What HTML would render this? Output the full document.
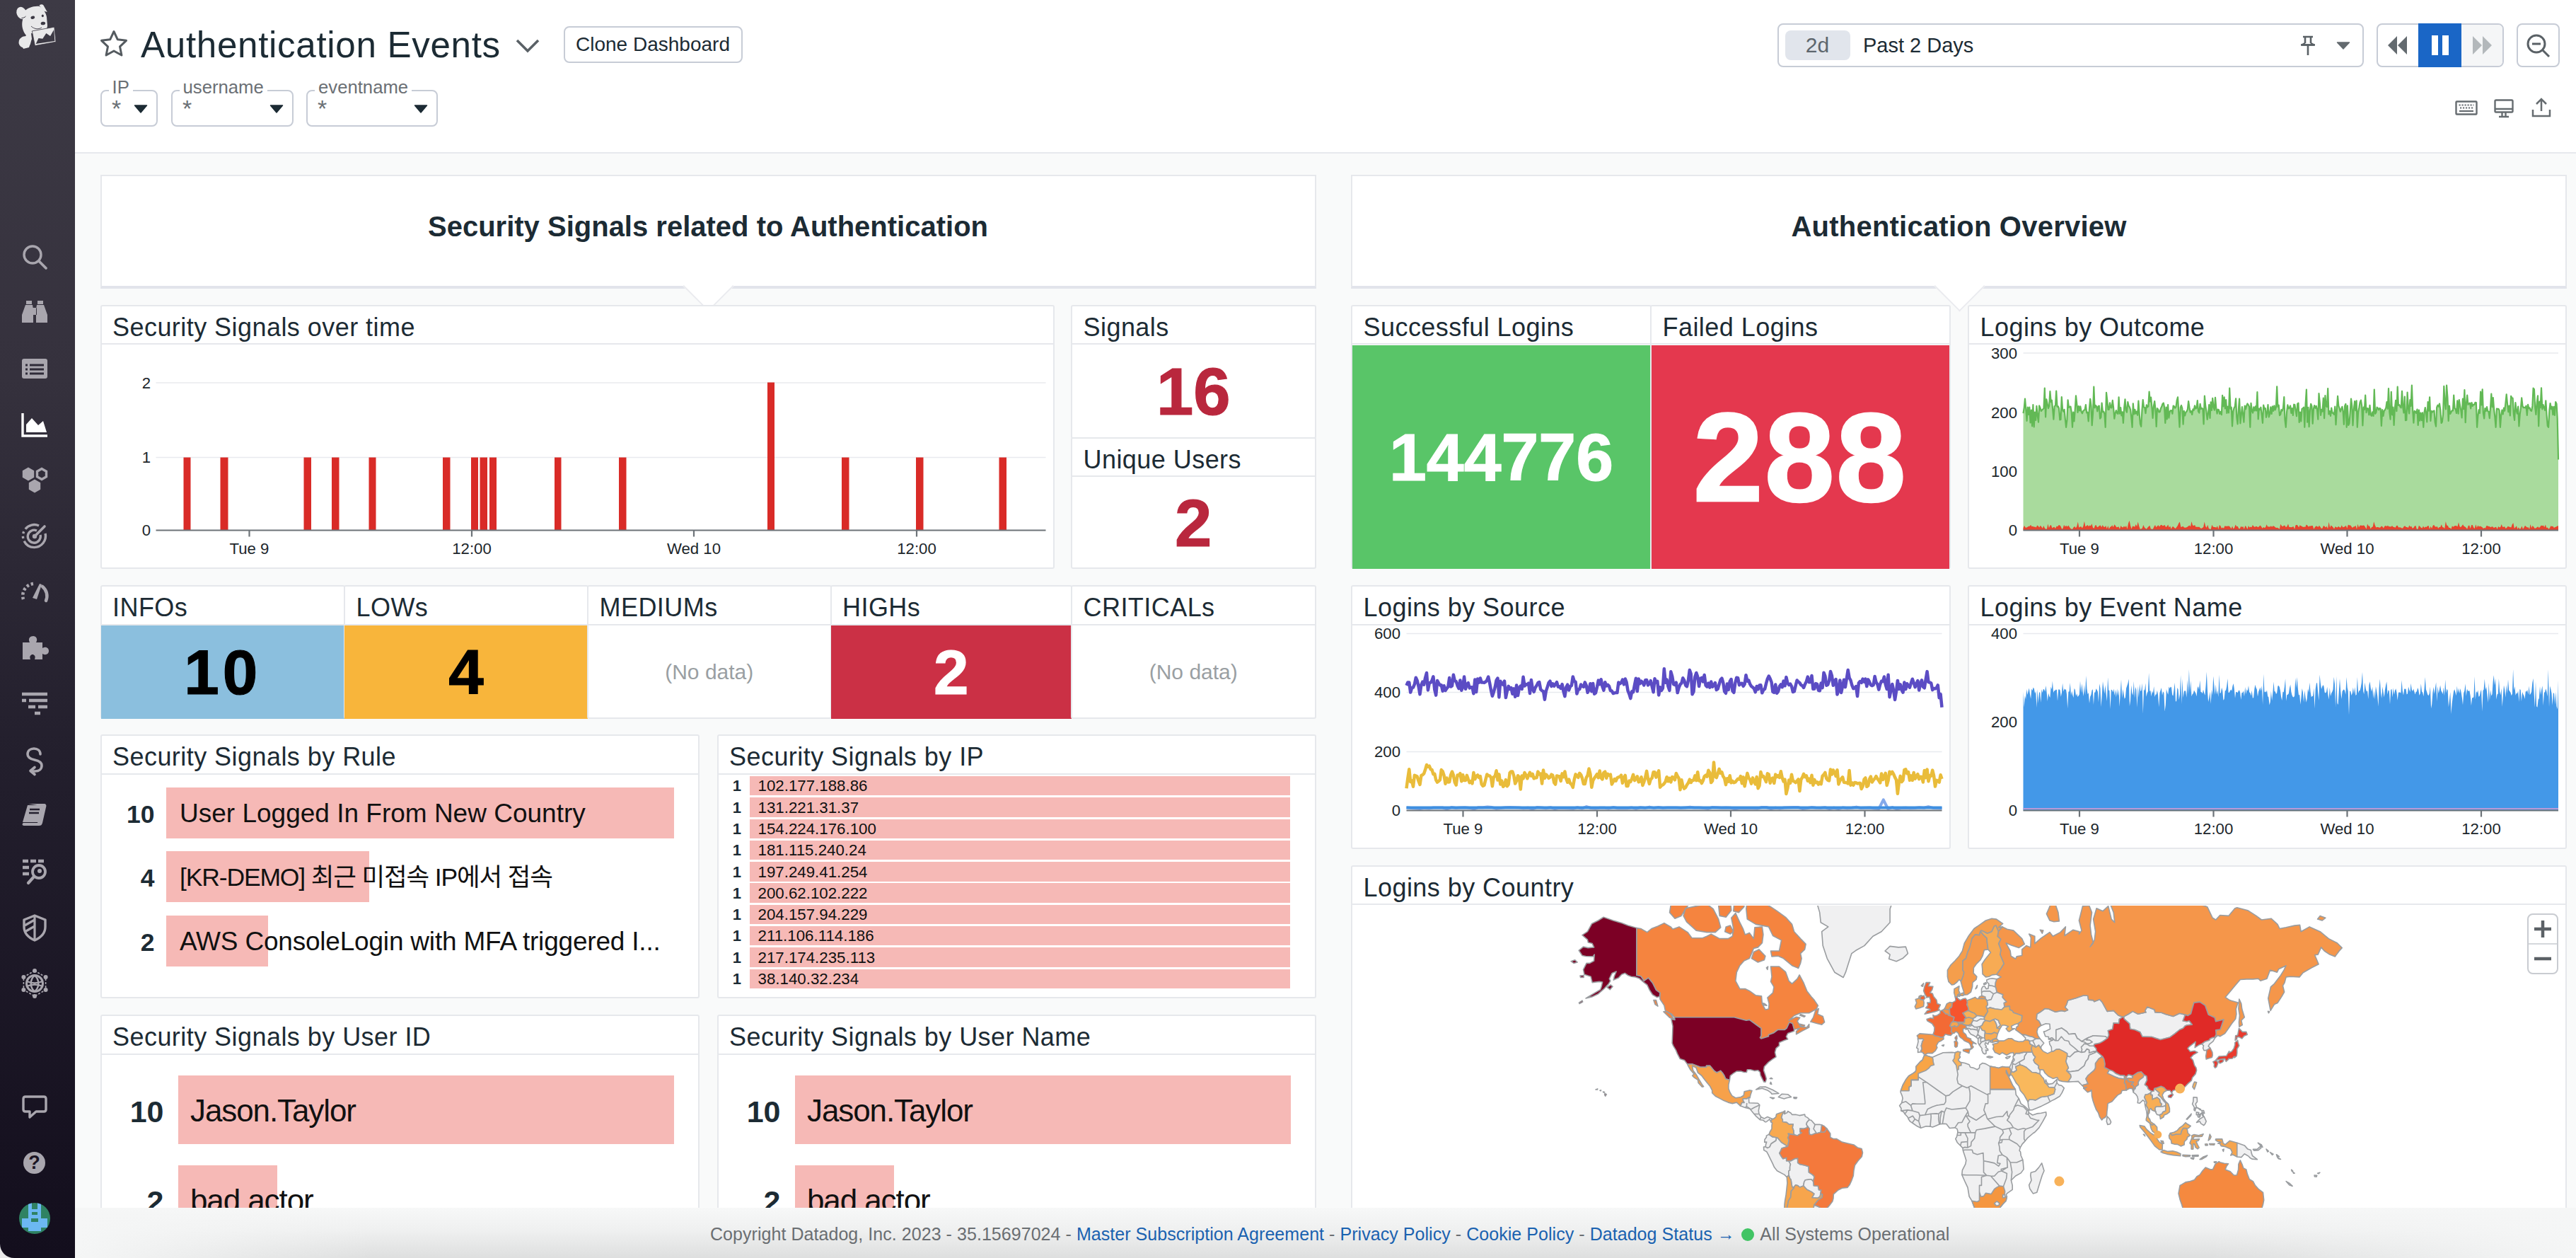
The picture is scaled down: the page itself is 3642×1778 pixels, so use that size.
<!DOCTYPE html>
<html lang="en"><head><meta charset="utf-8"><title>Authentication Events | Datadog</title>
<style>
*{box-sizing:border-box}
html,body{margin:0;padding:0}
html{width:3642px;height:1778px;overflow:hidden}
body{width:3642px;height:1778px;overflow:hidden;position:relative;background:#f9fafa;font-family:"Liberation Sans", "Noto Sans CJK KR", sans-serif;color:#1c2b34}
.abs{position:absolute}
#side{position:absolute;left:0;top:0;width:106px;height:1778px;background:linear-gradient(180deg,#3d3a45 0%,#35313d 30%,#231f2d 60%,#130e1d 100%)}
#hdr{position:absolute;left:106px;top:0;width:3536px;height:217px;background:#fff;border-bottom:2px solid #e7e9ed}
.w{position:absolute;background:#fff;border:2px solid #e6e8ec;border-radius:3px}
.t{position:absolute;left:0;right:0;top:0;height:54.400px;border-bottom:2px solid #e6e8ec;font-size:36px;line-height:59.500px;letter-spacing:0.450px;padding-left:15.500px;white-space:nowrap;color:#1c2b34}
.g{position:absolute;background:#fff;border:2px solid #e6e8ec;border-bottom:4px solid #e2e4eb;text-align:center;font-weight:700;font-size:40px;color:#1c2b34}
.g span{position:absolute;left:0;right:0;top:41.500px;line-height:60px;white-space:nowrap}
.notch{position:absolute;width:51px;height:51px;background:#fff;border-right:2px solid #eaebef;border-bottom:2px solid #eaebef;transform:rotate(45deg)}
.big{position:absolute;left:0;right:0;text-align:center;font-weight:700;white-space:nowrap}
.nodata{position:absolute;left:0;right:0;text-align:center;color:#9a9fa3;font-size:30px;white-space:nowrap}
.row{position:absolute;white-space:nowrap}
.bar{position:absolute;background:#f6b9b6}
.num{position:absolute;font-weight:700;text-align:right;color:#1c2b34;white-space:nowrap}
.lab{position:absolute;color:#111;white-space:nowrap}
.btn{position:absolute;border:2px solid #c7ccd6;border-radius:8px;background:#fff}
.ddl{position:absolute;font-size:25.700px;color:#6b7075;background:#fff;padding:0 5px;line-height:28px;white-space:nowrap}
svg{position:absolute;overflow:visible}
svg text{font-family:"Liberation Sans", "Noto Sans CJK KR", sans-serif}
#foot{position:absolute;left:106px;top:1707px;width:3536px;height:71px;background:linear-gradient(90deg,rgba(245,246,246,1) 0,rgba(245,246,246,0) 420px),linear-gradient(270deg,rgba(245,246,246,1) 0,rgba(245,246,246,0) 520px),linear-gradient(180deg,#f7f8f8 0%,#eff0f0 45%,#dedfdf 100%);font-size:25px;letter-spacing:0.050px;color:#6a6e72;white-space:nowrap}
#foot a{color:#1a62b0;text-decoration:none}
</style></head><body>
<div id="hdr"></div>
<svg style="left:140px;top:41px" width="42" height="42" viewBox="0 0 42 42"><path d="M21 3.5l5.3 11.3 12.2 1.5-9 8.5 2.4 12.2L21 31l-10.9 6 2.4-12.2-9-8.5 12.200-1.5z" fill="none" stroke="#555b60" stroke-width="3" stroke-linejoin="round"/></svg>
<div class="abs" style="left:199px;top:32px;font-size:51.200px;line-height:64px;letter-spacing:0.650px;white-space:nowrap;color:#1c2b34">Authentication Events</div>
<svg style="left:728px;top:54px" width="36" height="24" viewBox="0 0 36 24"><path d="M3 3l15 15L33 3" fill="none" stroke="#5a6166" stroke-width="3.6"/></svg>
<div class="btn" style="left:796.5px;top:36.500px;width:253px;height:52px;text-align:center;font-size:28px;line-height:47px;color:#1c2b34;white-space:nowrap">Clone Dashboard</div>
<div class="btn" style="left:141.5px;top:127px;width:81px;height:51.500px"></div><div class="ddl" style="left:153.5px;top:109px">IP</div><div class="abs" style="left:158px;top:133px;font-size:34px;line-height:40px;color:#6b7075">*</div><svg style="left:188.5px;top:148px" width="20" height="12" viewBox="0 0 20 12"><path d="M1.500 1h17L10 11z" fill="#1c2b34" stroke="#1c2b34" stroke-width="1.500" stroke-linejoin="round"/></svg>
<div class="btn" style="left:241.5px;top:127px;width:173px;height:51.500px"></div><div class="ddl" style="left:253.5px;top:109px">username</div><div class="abs" style="left:258px;top:133px;font-size:34px;line-height:40px;color:#6b7075">*</div><svg style="left:380.5px;top:148px" width="20" height="12" viewBox="0 0 20 12"><path d="M1.500 1h17L10 11z" fill="#1c2b34" stroke="#1c2b34" stroke-width="1.500" stroke-linejoin="round"/></svg>
<div class="btn" style="left:432.5px;top:127px;width:186px;height:51.500px"></div><div class="ddl" style="left:445px;top:109px">eventname</div><div class="abs" style="left:449px;top:133px;font-size:34px;line-height:40px;color:#6b7075">*</div><svg style="left:584.5px;top:148px" width="20" height="12" viewBox="0 0 20 12"><path d="M1.500 1h17L10 11z" fill="#1c2b34" stroke="#1c2b34" stroke-width="1.500" stroke-linejoin="round"/></svg>
<div class="btn" style="left:2512.5px;top:32.500px;width:829px;height:62.500px"></div><div class="abs" style="left:2523.5px;top:43px;width:92px;height:42px;background:#e1e5ec;border-radius:8px;text-align:center;font-size:30px;line-height:42px;color:#5d666d">2d</div><div class="abs" style="left:2634px;top:43px;font-size:29px;line-height:42px;color:#1c2b34;white-space:nowrap">Past 2 Days</div><svg style="left:3248px;top:49px" width="30" height="32" viewBox="0 0 30 32"><path d="M8 3h14M11 3v9M19 3v9M5 14.500h20M15 15v14" fill="none" stroke="#5a6166" stroke-width="2.600"/><path d="M11 12l-5 2.500h18l-5-2.500" fill="none" stroke="#5a6166" stroke-width="2.400"/></svg><svg style="left:3303px;top:59px" width="20" height="11" viewBox="0 0 20 11"><path d="M1.500 1h17L10 10z" fill="#636a6f" stroke="#636a6f" stroke-width="1.500" stroke-linejoin="round"/></svg>
<div class="btn" style="left:3359.5px;top:32.500px;width:180px;height:62.500px;overflow:hidden"><div class="abs" style="left:118.5px;top:0;width:62px;height:63px;background:#f5f6f7"></div></div><div class="abs" style="left:3419px;top:32.500px;width:61px;height:62.500px;background:#1a66c6"></div><svg style="left:3376px;top:50px" width="28" height="28" viewBox="0 0 28 28"><path d="M13 1v26L0 14zM27 1v26L14 14z" fill="#636a6f"/></svg><svg style="left:3437px;top:50px" width="26" height="28" viewBox="0 0 26 28"><path d="M1 0h9v28H1zM16 0h9v28h-9z" fill="#fff"/></svg><svg style="left:3496px;top:51px" width="28" height="26" viewBox="0 0 28 26"><path d="M0 0l13 13L0 26zM14 0l13 13-13 13z" fill="#b3b8bb"/></svg>
<div class="btn" style="left:3557.5px;top:32.500px;width:61px;height:62.500px"></div><svg style="left:3571px;top:47px" width="36" height="36" viewBox="0 0 36 36"><circle cx="15" cy="15" r="12" fill="none" stroke="#5a6166" stroke-width="3"/><path d="M9 15h12M24 24l9 9" stroke="#5a6166" stroke-width="3" fill="none"/></svg>
<svg style="left:3471px;top:142px" width="32" height="22" viewBox="0 0 32 22"><rect x="1.500" y="1.500" width="29" height="18" rx="1" fill="none" stroke="#666c70" stroke-width="2.400"/><path d="M5.500 6.500h21M7 10.500h19" stroke="#666c70" stroke-width="2.200" stroke-dasharray="2.200 1.800"/><path d="M6 15h20" stroke="#666c70" stroke-width="2.200"/></svg><svg style="left:3526px;top:140px" width="28" height="27" viewBox="0 0 28 27"><rect x="1.500" y="1.500" width="25" height="17" rx="1.500" fill="none" stroke="#666c70" stroke-width="2.400"/><path d="M1.500 14h25M11.500 19v5M16.500 19v5M7 25h14" stroke="#666c70" stroke-width="2.400" fill="none"/></svg><svg style="left:3579px;top:138px" width="28" height="28" viewBox="0 0 28 28"><path d="M2 17v9h24v-9M14 19V3M7 9l7-7 7 7" fill="none" stroke="#666c70" stroke-width="2.500"/></svg>
<div class="g" style="left:141.5px;top:246.500px;width:1719px;height:161.500px"><span>Security Signals related to Authentication</span></div>
<div class="notch" style="left:975.5px;top:378.500px"></div>
<div class="g" style="left:1910px;top:246.500px;width:1719px;height:161.500px"><span><i style="font-style:normal;letter-spacing:0.220px">Authentication Overview</i></span></div>
<div class="notch" style="left:2744.5px;top:378.500px"></div>
<div class="w" style="left:141.5px;top:431px;width:1349.5px;height:373px"><div class="t">Security Signals over time</div></div>
<div class="w" style="left:1514px;top:431px;width:346.5px;height:188.5px"><div class="big" style="top:55.500px;font-size:94px;line-height:130px;color:#b9273d;-webkit-text-stroke:1.200px #b9273d">16</div><div class="t">Signals</div></div>
<div class="w" style="left:1514px;top:617.5px;width:346.5px;height:186.5px"><div class="big" style="top:55.500px;font-size:94px;line-height:130px;color:#b9273d;-webkit-text-stroke:1.200px #b9273d">2</div><div class="t">Unique Users</div></div>
<div class="w" style="left:1910px;top:431px;width:425px;height:373px"><div class="abs" style="left:0;right:0;top:55px;bottom:-2px;background:#59c568"></div><div class="big" style="top:54.500px;font-size:95px;line-height:317px;color:#fff;-webkit-text-stroke:1.200px #fff">144776</div><div class="t">Successful Logins</div></div>
<div class="w" style="left:2333px;top:431px;width:424.5px;height:373px"><div class="abs" style="left:0;right:0;top:55px;bottom:-2px;background:#e4384e"></div><div class="big" style="top:55px;font-size:178px;letter-spacing:2px;line-height:317px;color:#fff;-webkit-text-stroke:2.500px #fff">288</div><div class="t">Failed Logins</div></div>
<div class="w" style="left:2782px;top:431px;width:847px;height:373px"><div class="t">Logins by Outcome</div></div>
<div class="w" style="left:141.5px;top:827.2px;width:346.5px;height:188.8px"><div class="abs" style="left:-1px;right:-1px;top:54.400px;bottom:-2px;background:#8bbfde"></div><div class="big" style="top:55px;font-size:89px;letter-spacing:5px;line-height:132px;color:#000;-webkit-text-stroke:1.200px #000">10</div><div class="t">INFOs</div></div>
<div class="w" style="left:486px;top:827.2px;width:346px;height:188.8px"><div class="abs" style="left:-1px;right:-1px;top:54.400px;bottom:-2px;background:#f8b53b"></div><div class="big" style="top:55px;font-size:89px;letter-spacing:0;line-height:132px;color:#000;-webkit-text-stroke:1.200px #000">4</div><div class="t">LOWs</div></div>
<div class="w" style="left:830px;top:827.2px;width:345.5px;height:188.8px"><div class="nodata" style="top:101px;line-height:40px">(No data)</div><div class="t">MEDIUMs</div></div>
<div class="w" style="left:1173.5px;top:827.2px;width:342.5px;height:188.8px"><div class="abs" style="left:-1px;right:-1px;top:54.400px;bottom:-2px;background:#cb3045"></div><div class="big" style="top:55px;font-size:89px;letter-spacing:0;line-height:132px;color:#fff;-webkit-text-stroke:1.200px #fff">2</div><div class="t">HIGHs</div></div>
<div class="w" style="left:1514px;top:827.2px;width:346.5px;height:188.8px"><div class="nodata" style="top:101px;line-height:40px">(No data)</div><div class="t">CRITICALs</div></div>
<div class="w" style="left:1910px;top:827.2px;width:847.5px;height:372.5px"><div class="t">Logins by Source</div></div>
<div class="w" style="left:2782px;top:827.2px;width:847px;height:372.5px"><div class="t">Logins by Event Name</div></div>
<div class="w" style="left:141.5px;top:1038.2px;width:847px;height:372.4px"><div class="bar" style="left:91.5px;top:73.3px;width:718px;height:72px"></div><div class="num" style="left:0;width:75px;top:74.8px;font-size:35.500px;line-height:72px">10</div><div class="lab" style="left:110.5px;top:74.3px;font-size:37px;line-height:72px">User Logged In From New Country</div><div class="bar" style="left:91.5px;top:163.3px;width:287px;height:72px"></div><div class="num" style="left:0;width:75px;top:164.8px;font-size:35.500px;line-height:72px">4</div><div class="lab" style="left:110.5px;top:164.3px;font-size:35.500px;letter-spacing:-1.150px;line-height:72px">[KR-DEMO] 최근 미접속 IP에서 접속</div><div class="bar" style="left:91.5px;top:254.3px;width:143.5px;height:72px"></div><div class="num" style="left:0;width:75px;top:255.8px;font-size:35.500px;line-height:72px">2</div><div class="lab" style="left:110.5px;top:255.3px;font-size:37px;letter-spacing:-0.200px;line-height:72px">AWS ConsoleLogin with MFA triggered I...</div><div class="t">Security Signals by Rule</div></div>
<div class="w" style="left:1013.5px;top:1038.2px;width:847px;height:372.4px"><div class="bar" style="left:44.5px;top:56.8px;width:764px;height:27.500px"></div><div class="num" style="left:0;width:32.5px;top:57.3px;font-size:22px;line-height:28px">1</div><div class="lab" style="left:56px;top:57.3px;font-size:22.300px;line-height:28px">102.177.188.86</div><div class="bar" style="left:44.5px;top:87.08px;width:764px;height:27.500px"></div><div class="num" style="left:0;width:32.5px;top:87.58px;font-size:22px;line-height:28px">1</div><div class="lab" style="left:56px;top:87.58px;font-size:22.300px;line-height:28px">131.221.31.37</div><div class="bar" style="left:44.5px;top:117.36px;width:764px;height:27.500px"></div><div class="num" style="left:0;width:32.5px;top:117.86px;font-size:22px;line-height:28px">1</div><div class="lab" style="left:56px;top:117.86px;font-size:22.300px;line-height:28px">154.224.176.100</div><div class="bar" style="left:44.5px;top:147.64px;width:764px;height:27.500px"></div><div class="num" style="left:0;width:32.5px;top:148.14px;font-size:22px;line-height:28px">1</div><div class="lab" style="left:56px;top:148.14px;font-size:22.300px;line-height:28px">181.115.240.24</div><div class="bar" style="left:44.5px;top:177.92px;width:764px;height:27.500px"></div><div class="num" style="left:0;width:32.5px;top:178.42px;font-size:22px;line-height:28px">1</div><div class="lab" style="left:56px;top:178.42px;font-size:22.300px;line-height:28px">197.249.41.254</div><div class="bar" style="left:44.5px;top:208.2px;width:764px;height:27.500px"></div><div class="num" style="left:0;width:32.5px;top:208.7px;font-size:22px;line-height:28px">1</div><div class="lab" style="left:56px;top:208.7px;font-size:22.300px;line-height:28px">200.62.102.222</div><div class="bar" style="left:44.5px;top:238.48px;width:764px;height:27.500px"></div><div class="num" style="left:0;width:32.5px;top:238.98px;font-size:22px;line-height:28px">1</div><div class="lab" style="left:56px;top:238.98px;font-size:22.300px;line-height:28px">204.157.94.229</div><div class="bar" style="left:44.5px;top:268.76px;width:764px;height:27.500px"></div><div class="num" style="left:0;width:32.5px;top:269.26px;font-size:22px;line-height:28px">1</div><div class="lab" style="left:56px;top:269.26px;font-size:22.300px;line-height:28px">211.106.114.186</div><div class="bar" style="left:44.5px;top:299.04px;width:764px;height:27.500px"></div><div class="num" style="left:0;width:32.5px;top:299.54px;font-size:22px;line-height:28px">1</div><div class="lab" style="left:56px;top:299.54px;font-size:22.300px;line-height:28px">217.174.235.113</div><div class="bar" style="left:44.5px;top:329.32px;width:764px;height:27.500px"></div><div class="num" style="left:0;width:32.5px;top:329.82px;font-size:22px;line-height:28px">1</div><div class="lab" style="left:56px;top:329.82px;font-size:22.300px;line-height:28px">38.140.32.234</div><div class="t">Security Signals by IP</div></div>
<div class="w" style="left:141.5px;top:1434.2px;width:847px;height:300px"><div class="bar" style="left:108.5px;top:83.8px;width:701px;height:97.500px"></div><div class="num" style="left:0;width:88px;top:85.8px;font-size:43px;line-height:98px">10</div><div class="lab" style="left:125.5px;top:84.8px;font-size:44px;letter-spacing:-1.100px;line-height:98px">Jason.Taylor</div><div class="bar" style="left:108.5px;top:210.8px;width:139.5px;height:97.500px"></div><div class="num" style="left:0;width:88px;top:212.8px;font-size:43px;line-height:98px">2</div><div class="lab" style="left:125.5px;top:211.8px;font-size:44px;letter-spacing:-1.100px;line-height:98px">bad.actor</div><div class="t">Security Signals by User ID</div></div>
<div class="w" style="left:1013.5px;top:1434.2px;width:847px;height:300px"><div class="bar" style="left:108.5px;top:83.8px;width:701px;height:97.500px"></div><div class="num" style="left:0;width:88px;top:85.8px;font-size:43px;line-height:98px">10</div><div class="lab" style="left:125.5px;top:84.8px;font-size:44px;letter-spacing:-1.100px;line-height:98px">Jason.Taylor</div><div class="bar" style="left:108.5px;top:210.8px;width:139.5px;height:97.500px"></div><div class="num" style="left:0;width:88px;top:212.8px;font-size:43px;line-height:98px">2</div><div class="lab" style="left:125.5px;top:211.8px;font-size:44px;letter-spacing:-1.100px;line-height:98px">bad.actor</div><div class="t">Security Signals by User Name</div></div>
<div class="w" style="left:1910px;top:1223px;width:1719px;height:520px"><div class="t">Logins by Country</div></div>
<svg style="left:0;top:0" width="3642" height="1778" viewBox="0 0 3642 1778"><text x="213" y="548.7" text-anchor="end" font-size="22.200" fill="#20262b">2</text><text x="213" y="654.2" text-anchor="end" font-size="22.200" fill="#20262b">1</text><text x="213" y="757.2" text-anchor="end" font-size="22.200" fill="#20262b">0</text><path d="M220.5 541H1478.5" stroke="#e8eaee" stroke-width="1.500" fill="none"/><path d="M220.5 646.5H1478.5" stroke="#e8eaee" stroke-width="1.500" fill="none"/><path d="M259.5 749.5V646.5H269.5V749.5zM311.5 749.5V646.5H322.5V749.5zM429.5 749.5V646.5H440V749.5zM469 749.5V646.5H479.5V749.5zM521.5 749.5V646.5H531.5V749.5zM626 749.5V646.5H636.5V749.5zM666 749.5V646.5H676V749.5zM678.5 749.5V646.5H689V749.5zM692 749.5V646.5H702V749.5zM784 749.5V646.5H793.5V749.5zM875 749.5V646.5H885.5V749.5zM1085 749.5V540.5H1095V749.5zM1190 749.5V646.5H1200.5V749.5zM1295 749.5V646.5H1305.5V749.5zM1412.5 749.5V646.5H1423V749.5z" fill="#d92b27"/><path d="M220.5 749.5H1478.5M352.5 749.5v9M667 749.5v9M981 749.5v9M1296 749.5v9" stroke="#6d7378" stroke-width="2.200" fill="none"/><text x="352.5" y="782.7" text-anchor="middle" font-size="22.200" fill="#20262b">Tue 9</text><text x="667" y="782.7" text-anchor="middle" font-size="22.200" fill="#20262b">12:00</text><text x="981" y="782.7" text-anchor="middle" font-size="22.200" fill="#20262b">Wed 10</text><text x="1296" y="782.7" text-anchor="middle" font-size="22.200" fill="#20262b">12:00</text><text x="2852" y="506.7" text-anchor="end" font-size="22.200" fill="#20262b">300</text><text x="2852" y="591.2" text-anchor="end" font-size="22.200" fill="#20262b">200</text><text x="2852" y="674.2" text-anchor="end" font-size="22.200" fill="#20262b">100</text><text x="2852" y="757.2" text-anchor="end" font-size="22.200" fill="#20262b">0</text><path d="M2860.5 499H3617" stroke="#e8eaee" stroke-width="1.500" fill="none"/><path d="M2860.5 584.1L2861.8 576.1L2863 563.7L2864.3 578.3L2865.6 594.8L2866.8 575.6L2868.1 585.8L2869.3 575.6L2870.6 597.5L2871.9 579.6L2873.1 602.3L2874.4 572.1L2875.7 603.4L2876.9 582.7L2878.2 593.9L2879.4 573.9L2880.7 587.5L2882 596.6L2883.2 573.4L2884.5 576.4L2885.8 581L2887 579.3L2888.3 578.3L2889.5 577.2L2890.8 548.5L2892.1 589.5L2893.3 564.3L2894.6 570.5L2895.9 577.1L2897.1 574.2L2898.4 553.2L2899.7 568.2L2900.9 565.7L2902.2 578.7L2903.4 592.6L2904.7 574.3L2906 573.2L2907.2 552.6L2908.5 574.8L2909.8 574.3L2911 577.1L2912.3 593.3L2913.5 592.9L2914.8 561.1L2916.1 579.1L2917.3 581.7L2918.6 578.8L2919.9 593L2921.1 603.8L2922.4 593.5L2923.6 565.4L2924.9 576L2926.2 574.8L2927.4 574.5L2928.7 582.2L2930 603.8L2931.2 582.6L2932.5 595.3L2933.8 578.5L2935 559.3L2936.3 571.4L2937.5 582.8L2938.8 574L2940.1 580.4L2941.3 574.4L2942.6 581.8L2943.9 584.3L2945.1 581.1L2946.4 579.6L2947.6 579.3L2948.9 572.1L2950.2 583.5L2951.4 582.7L2952.7 595.3L2954 577.1L2955.2 563.9L2956.5 573.8L2957.7 601.1L2959 584.3L2960.3 546.7L2961.5 576.3L2962.8 573L2964.1 574.4L2965.3 581.4L2966.6 574.2L2967.8 573.6L2969.1 591.7L2970.4 589.9L2971.6 569.6L2972.9 582.2L2974.2 581.7L2975.4 585L2976.7 603.8L2978 554.9L2979.2 565.5L2980.5 579L2981.7 578.9L2983 569.4L2984.3 576.2L2985.5 576.4L2986.8 565.8L2988.1 576.5L2989.3 591.7L2990.6 584.2L2991.8 580L2993.1 583.7L2994.4 584.9L2995.6 561.4L2996.9 584.7L2998.2 576L2999.4 587.3L3000.7 582.3L3001.9 597.8L3003.2 576.4L3004.5 564.4L3005.7 579.7L3007 582.7L3008.3 568.1L3009.5 573.3L3010.8 575.3L3012.1 579.2L3013.3 589.8L3014.6 603.8L3015.8 570.4L3017.1 585.5L3018.4 578.9L3019.6 584.7L3020.9 581.6L3022.2 586.8L3023.4 566.7L3024.7 585.1L3025.9 599.1L3027.2 602.9L3028.5 579L3029.7 565L3031 575.7L3032.3 576L3033.5 584.1L3034.8 572.3L3036 575.5L3037.3 574.5L3038.6 553.5L3039.8 567.7L3041.1 561.7L3042.4 575.7L3043.6 590.8L3044.9 573.9L3046.2 567.1L3047.4 578.3L3048.7 602.9L3049.9 577.2L3051.2 578.8L3052.5 582.6L3053.7 582.1L3055 577.3L3056.3 574.6L3057.5 570.8L3058.8 569.6L3060 575.2L3061.3 597.9L3062.6 575.5L3063.8 592.4L3065.1 572.2L3066.4 590.7L3067.6 582.3L3068.9 580L3070.1 580L3071.4 584.8L3072.7 573.5L3073.9 574.4L3075.2 576.7L3076.5 574.9L3077.7 566L3079 561.3L3080.3 583.3L3081.5 603.7L3082.8 575.7L3084 573L3085.3 577L3086.6 599.6L3087.8 580.8L3089.1 587.5L3090.4 582.8L3091.6 581.5L3092.9 578.6L3094.1 567L3095.4 576L3096.7 582.7L3097.9 580.9L3099.2 586L3100.5 578.3L3101.7 579.9L3103 573.3L3104.2 577.7L3105.5 576.7L3106.8 566.1L3108 581.5L3109.3 583.5L3110.6 570.8L3111.8 578L3113.1 576.9L3114.4 578.1L3115.6 599.5L3116.9 559.5L3118.1 572.8L3119.4 581.5L3120.7 592.8L3121.9 584.8L3123.2 572L3124.5 591L3125.7 568.4L3127 579.8L3128.2 562.9L3129.5 575.5L3130.8 579.6L3132 561.9L3133.3 577.1L3134.6 584.6L3135.8 578.7L3137.1 579.5L3138.3 585L3139.6 581.9L3140.9 586.1L3142.1 558.8L3143.4 574.4L3144.7 561.4L3145.9 577.5L3147.2 565.2L3148.4 583.9L3149.7 574.6L3151 583.4L3152.2 548.7L3153.5 577.8L3154.8 575.6L3156 602.4L3157.3 581.3L3158.6 576.6L3159.8 574.5L3161.1 563.3L3162.3 589.5L3163.6 599.3L3164.9 578.5L3166.1 563.7L3167.4 598.3L3168.7 586.8L3169.9 575L3171.2 585.8L3172.4 596.6L3173.7 573.6L3175 578.3L3176.2 573.4L3177.5 570.5L3178.8 572.4L3180 574.8L3181.3 603.8L3182.5 569.8L3183.8 580L3185.1 583.5L3186.3 575.4L3187.6 580.4L3188.9 574.3L3190.1 580.5L3191.4 554.2L3192.7 592.5L3193.9 577.5L3195.2 579L3196.4 575.7L3197.7 585.8L3199 597.8L3200.2 572.5L3201.5 578.2L3202.8 577L3204 589.9L3205.3 583.4L3206.5 572.2L3207.8 589.5L3209.1 585L3210.3 575.3L3211.6 585L3212.9 574.3L3214.1 580.9L3215.4 573.3L3216.6 579.4L3217.9 575.7L3219.2 546.4L3220.4 575L3221.7 572.7L3223 587.1L3224.2 585.8L3225.5 579.2L3226.8 580.5L3228 576.7L3229.3 561.2L3230.5 593.7L3231.8 603.8L3233.1 582.2L3234.3 572.3L3235.6 577.4L3236.9 576.5L3238.1 573.5L3239.4 583.9L3240.6 577L3241.9 587L3243.2 571.7L3244.4 572.1L3245.7 580.3L3247 588.2L3248.2 570.8L3249.5 569.7L3250.7 596.9L3252 582.6L3253.3 595.5L3254.5 577.9L3255.8 577.3L3257.1 575.7L3258.3 603.8L3259.6 571.3L3260.9 550.7L3262.1 596.6L3263.4 575.9L3264.6 603.2L3265.9 579.9L3267.2 570.8L3268.4 573.9L3269.7 598.8L3271 577.6L3272.2 573L3273.5 576.8L3274.7 573.8L3276 579L3277.3 592.7L3278.5 556.2L3279.8 569.5L3281.1 586.8L3282.3 578.9L3283.6 581.6L3284.8 562.6L3286.1 591.2L3287.4 559L3288.6 573.6L3289.9 575.2L3291.2 549.1L3292.4 585.4L3293.7 581.1L3295 587.8L3296.2 576.5L3297.5 583.7L3298.7 583.7L3300 585.9L3301.3 574.5L3302.5 600.3L3303.8 579.2L3305.1 559.9L3306.3 573.5L3307.6 577.1L3308.8 581.6L3310.1 578.2L3311.4 574.8L3312.6 581.2L3313.9 599.8L3315.2 573.4L3316.4 570.9L3317.7 603.8L3318.9 573.3L3320.2 601L3321.5 598.5L3322.7 583.1L3324 563.5L3325.3 573.9L3326.5 601.3L3327.8 579L3329.1 567.1L3330.3 580.1L3331.6 566.3L3332.8 603.8L3334.1 582.2L3335.4 575.7L3336.6 568.6L3337.9 565.6L3339.2 573.7L3340.4 601.5L3341.7 575.5L3342.9 578.9L3344.2 558.7L3345.5 583.1L3346.7 577L3348 577.6L3349.3 586.3L3350.5 572.8L3351.8 586.4L3353 587.9L3354.3 582.4L3355.6 587.9L3356.8 550.5L3358.1 584.8L3359.4 582.8L3360.6 575.7L3361.9 576.9L3363.1 579.3L3364.4 577L3365.7 577.7L3366.9 602L3368.2 579.2L3369.5 588L3370.7 580.8L3372 579.2L3373.3 576.6L3374.5 568.2L3375.8 577.8L3377 549.1L3378.3 581.8L3379.6 592.7L3380.8 553.8L3382.1 586.3L3383.4 575.6L3384.6 601L3385.9 576.9L3387.1 565.8L3388.4 581.2L3389.7 546.7L3390.9 572.9L3392.2 572.2L3393.5 574.9L3394.7 576.3L3396 552.8L3397.2 575L3398.5 583.5L3399.8 560.6L3401 594.2L3402.3 593.8L3403.6 554.6L3404.8 576.1L3406.1 584.4L3407.4 565.2L3408.6 573.9L3409.9 544.7L3411.1 578.3L3412.4 597.7L3413.7 580.9L3414.9 581.7L3416.2 583.9L3417.5 578.6L3418.7 600.9L3420 579.6L3421.2 594.7L3422.5 583.5L3423.8 594.2L3425 583.4L3426.3 603.8L3427.6 582.5L3428.8 576L3430.1 583.6L3431.3 596.4L3432.6 568.2L3433.9 580.7L3435.1 561.4L3436.4 595L3437.7 580.8L3438.9 582.5L3440.2 581.1L3441.5 580.5L3442.7 596.8L3444 602.6L3445.2 575.7L3446.5 572.7L3447.8 574.5L3449 570.6L3450.3 579.3L3451.6 598L3452.8 596.4L3454.1 585.3L3455.3 545.9L3456.6 569.8L3457.9 578.3L3459.1 544.7L3460.4 561.6L3461.7 595L3462.9 573.5L3464.2 585L3465.4 582.7L3466.7 580.2L3468 580.3L3469.2 558.6L3470.5 577.2L3471.8 578.3L3473 584L3474.3 566.3L3475.6 584.6L3476.8 565.2L3478.1 573.6L3479.3 579.7L3480.6 590.4L3481.9 563.7L3483.1 578.2L3484.4 551.2L3485.7 597.1L3486.9 570.4L3488.2 558.6L3489.4 571.8L3490.7 570.5L3492 569.6L3493.2 577.4L3494.5 569.1L3495.8 574L3497 571.8L3498.3 572L3499.5 568.9L3500.8 569.1L3502.1 603.8L3503.3 588.3L3504.6 579.4L3505.9 583.9L3507.1 553.7L3508.4 572.5L3509.7 550.4L3510.9 583.9L3512.2 591.5L3513.4 577.1L3514.7 580.9L3516 575L3517.2 581.1L3518.5 581.8L3519.8 591.2L3521 576.5L3522.3 556.5L3523.5 575.3L3524.8 562.2L3526.1 578.8L3527.3 588.8L3528.6 603.8L3529.9 577.6L3531.1 578.1L3532.4 577.8L3533.6 580L3534.9 603.8L3536.2 586.3L3537.4 579.6L3538.7 585.5L3540 576.7L3541.2 580.6L3542.5 569.2L3543.7 557.4L3545 570.9L3546.3 582.1L3547.5 573.7L3548.8 587.5L3550.1 559.8L3551.3 562.2L3552.6 562.7L3553.9 585.7L3555.1 593.8L3556.4 569L3557.6 579.9L3558.9 584.7L3560.2 574.6L3561.4 602.4L3562.7 585.6L3564 576.7L3565.2 562.3L3566.5 574.1L3567.7 576.1L3569 575.8L3570.3 576.4L3571.5 573.6L3572.8 586.9L3574.1 571.9L3575.3 577.1L3576.6 576.4L3577.8 580.1L3579.1 580.9L3580.4 573.9L3581.6 548.6L3582.9 550.2L3584.2 575.5L3585.4 585.9L3586.7 569.5L3588 559.3L3589.2 602.3L3590.5 567.5L3591.7 576.1L3593 548.4L3594.3 578.3L3595.5 572.1L3596.8 575.8L3598.1 580L3599.3 566.4L3600.6 586.9L3601.8 601.9L3603.1 603.8L3604.4 579.8L3605.6 570L3606.9 578.1L3608.2 574.7L3609.4 586.2L3610.7 574.9L3611.9 586.9L3613.2 568.1L3614.5 570.8L3615.7 591.3L3617 649.6V749.5H2860.5z" fill="#a9db9d"/><path d="M2860.5 584.1L2861.8 576.1L2863 563.7L2864.3 578.3L2865.6 594.8L2866.8 575.6L2868.1 585.8L2869.3 575.6L2870.6 597.5L2871.9 579.6L2873.1 602.3L2874.4 572.1L2875.7 603.4L2876.9 582.7L2878.2 593.9L2879.4 573.9L2880.7 587.5L2882 596.6L2883.2 573.4L2884.5 576.4L2885.8 581L2887 579.3L2888.3 578.3L2889.5 577.2L2890.8 548.5L2892.1 589.5L2893.3 564.3L2894.6 570.5L2895.9 577.1L2897.1 574.2L2898.4 553.2L2899.7 568.2L2900.9 565.7L2902.2 578.7L2903.4 592.6L2904.7 574.3L2906 573.2L2907.2 552.6L2908.5 574.8L2909.8 574.3L2911 577.1L2912.3 593.3L2913.5 592.9L2914.8 561.1L2916.1 579.1L2917.3 581.7L2918.6 578.8L2919.9 593L2921.1 603.8L2922.4 593.5L2923.6 565.4L2924.9 576L2926.2 574.8L2927.4 574.5L2928.7 582.2L2930 603.8L2931.2 582.6L2932.5 595.3L2933.8 578.5L2935 559.3L2936.3 571.4L2937.5 582.8L2938.8 574L2940.1 580.4L2941.3 574.4L2942.6 581.8L2943.9 584.3L2945.1 581.1L2946.4 579.6L2947.6 579.3L2948.9 572.1L2950.2 583.5L2951.4 582.7L2952.7 595.3L2954 577.1L2955.2 563.9L2956.5 573.8L2957.7 601.1L2959 584.3L2960.3 546.7L2961.5 576.3L2962.8 573L2964.1 574.4L2965.3 581.4L2966.6 574.2L2967.8 573.6L2969.1 591.7L2970.4 589.9L2971.6 569.6L2972.9 582.2L2974.2 581.7L2975.4 585L2976.7 603.8L2978 554.9L2979.2 565.5L2980.5 579L2981.7 578.9L2983 569.4L2984.3 576.2L2985.5 576.4L2986.8 565.8L2988.1 576.5L2989.3 591.7L2990.6 584.2L2991.8 580L2993.1 583.7L2994.4 584.9L2995.6 561.4L2996.9 584.7L2998.2 576L2999.4 587.3L3000.7 582.3L3001.9 597.8L3003.2 576.4L3004.5 564.4L3005.7 579.7L3007 582.7L3008.3 568.1L3009.5 573.3L3010.8 575.3L3012.1 579.2L3013.3 589.8L3014.6 603.8L3015.8 570.4L3017.1 585.5L3018.4 578.9L3019.6 584.7L3020.9 581.6L3022.2 586.8L3023.4 566.7L3024.7 585.1L3025.9 599.1L3027.2 602.9L3028.5 579L3029.7 565L3031 575.7L3032.3 576L3033.5 584.1L3034.8 572.3L3036 575.5L3037.3 574.5L3038.6 553.5L3039.8 567.7L3041.1 561.7L3042.4 575.7L3043.6 590.8L3044.9 573.9L3046.2 567.1L3047.4 578.3L3048.7 602.9L3049.9 577.2L3051.2 578.8L3052.5 582.6L3053.7 582.1L3055 577.3L3056.3 574.6L3057.5 570.8L3058.8 569.6L3060 575.2L3061.3 597.9L3062.6 575.5L3063.8 592.4L3065.1 572.2L3066.4 590.7L3067.6 582.3L3068.9 580L3070.1 580L3071.4 584.8L3072.7 573.5L3073.9 574.4L3075.2 576.7L3076.5 574.9L3077.7 566L3079 561.3L3080.3 583.3L3081.5 603.7L3082.8 575.7L3084 573L3085.3 577L3086.6 599.6L3087.8 580.8L3089.1 587.5L3090.4 582.8L3091.6 581.5L3092.9 578.6L3094.1 567L3095.4 576L3096.7 582.7L3097.9 580.9L3099.2 586L3100.5 578.3L3101.7 579.9L3103 573.3L3104.2 577.7L3105.5 576.7L3106.8 566.1L3108 581.5L3109.3 583.5L3110.6 570.8L3111.8 578L3113.1 576.9L3114.4 578.1L3115.6 599.5L3116.9 559.5L3118.1 572.8L3119.4 581.5L3120.7 592.8L3121.9 584.8L3123.2 572L3124.5 591L3125.7 568.4L3127 579.8L3128.2 562.9L3129.5 575.5L3130.8 579.6L3132 561.9L3133.3 577.1L3134.6 584.6L3135.8 578.7L3137.1 579.5L3138.3 585L3139.6 581.9L3140.9 586.1L3142.1 558.8L3143.4 574.4L3144.7 561.4L3145.9 577.5L3147.2 565.2L3148.4 583.9L3149.7 574.6L3151 583.4L3152.2 548.7L3153.5 577.8L3154.8 575.6L3156 602.4L3157.3 581.3L3158.6 576.6L3159.8 574.5L3161.1 563.3L3162.3 589.5L3163.6 599.3L3164.9 578.5L3166.1 563.7L3167.4 598.3L3168.7 586.8L3169.9 575L3171.2 585.8L3172.4 596.6L3173.7 573.6L3175 578.3L3176.2 573.4L3177.5 570.5L3178.8 572.4L3180 574.8L3181.3 603.8L3182.5 569.8L3183.8 580L3185.1 583.5L3186.3 575.4L3187.6 580.4L3188.9 574.3L3190.1 580.5L3191.4 554.2L3192.7 592.5L3193.9 577.5L3195.2 579L3196.4 575.7L3197.7 585.8L3199 597.8L3200.2 572.5L3201.5 578.2L3202.8 577L3204 589.9L3205.3 583.4L3206.5 572.2L3207.8 589.5L3209.1 585L3210.3 575.3L3211.6 585L3212.9 574.3L3214.1 580.9L3215.4 573.3L3216.6 579.4L3217.9 575.7L3219.2 546.4L3220.4 575L3221.7 572.7L3223 587.1L3224.2 585.8L3225.5 579.2L3226.8 580.5L3228 576.7L3229.3 561.2L3230.5 593.7L3231.8 603.8L3233.1 582.2L3234.3 572.3L3235.6 577.4L3236.9 576.5L3238.1 573.5L3239.4 583.9L3240.6 577L3241.9 587L3243.2 571.7L3244.4 572.1L3245.7 580.3L3247 588.2L3248.2 570.8L3249.5 569.7L3250.7 596.9L3252 582.6L3253.3 595.5L3254.5 577.9L3255.8 577.3L3257.1 575.7L3258.3 603.8L3259.6 571.3L3260.9 550.7L3262.1 596.6L3263.4 575.9L3264.6 603.2L3265.9 579.9L3267.2 570.8L3268.4 573.9L3269.7 598.8L3271 577.6L3272.2 573L3273.5 576.8L3274.7 573.8L3276 579L3277.3 592.7L3278.5 556.2L3279.8 569.5L3281.1 586.8L3282.3 578.9L3283.6 581.6L3284.8 562.6L3286.1 591.2L3287.4 559L3288.6 573.6L3289.9 575.2L3291.2 549.1L3292.4 585.4L3293.7 581.1L3295 587.8L3296.2 576.5L3297.5 583.7L3298.7 583.7L3300 585.9L3301.3 574.5L3302.5 600.3L3303.8 579.2L3305.1 559.9L3306.3 573.5L3307.6 577.1L3308.8 581.6L3310.1 578.2L3311.4 574.8L3312.6 581.2L3313.9 599.8L3315.2 573.4L3316.4 570.9L3317.7 603.8L3318.9 573.3L3320.2 601L3321.5 598.5L3322.7 583.1L3324 563.5L3325.3 573.9L3326.5 601.3L3327.8 579L3329.1 567.1L3330.3 580.1L3331.6 566.3L3332.8 603.8L3334.1 582.2L3335.4 575.7L3336.6 568.6L3337.9 565.6L3339.2 573.7L3340.4 601.5L3341.7 575.5L3342.9 578.9L3344.2 558.7L3345.5 583.1L3346.7 577L3348 577.6L3349.3 586.3L3350.5 572.8L3351.8 586.4L3353 587.9L3354.3 582.4L3355.6 587.9L3356.8 550.5L3358.1 584.8L3359.4 582.8L3360.6 575.7L3361.9 576.9L3363.1 579.3L3364.4 577L3365.7 577.7L3366.9 602L3368.2 579.2L3369.5 588L3370.7 580.8L3372 579.2L3373.3 576.6L3374.5 568.2L3375.8 577.8L3377 549.1L3378.3 581.8L3379.6 592.7L3380.8 553.8L3382.1 586.3L3383.4 575.6L3384.6 601L3385.9 576.9L3387.1 565.8L3388.4 581.2L3389.7 546.7L3390.9 572.9L3392.2 572.2L3393.5 574.9L3394.7 576.3L3396 552.8L3397.2 575L3398.5 583.5L3399.8 560.6L3401 594.2L3402.3 593.8L3403.6 554.6L3404.8 576.1L3406.1 584.4L3407.4 565.2L3408.6 573.9L3409.9 544.7L3411.1 578.3L3412.4 597.7L3413.7 580.9L3414.9 581.7L3416.2 583.9L3417.5 578.6L3418.7 600.9L3420 579.6L3421.2 594.7L3422.5 583.5L3423.8 594.2L3425 583.4L3426.3 603.8L3427.6 582.5L3428.8 576L3430.1 583.6L3431.3 596.4L3432.6 568.2L3433.9 580.7L3435.1 561.4L3436.4 595L3437.7 580.8L3438.9 582.5L3440.2 581.1L3441.5 580.5L3442.7 596.8L3444 602.6L3445.2 575.7L3446.5 572.7L3447.8 574.5L3449 570.6L3450.3 579.3L3451.6 598L3452.8 596.4L3454.1 585.3L3455.3 545.9L3456.6 569.8L3457.9 578.3L3459.1 544.7L3460.4 561.6L3461.7 595L3462.9 573.5L3464.2 585L3465.4 582.7L3466.7 580.2L3468 580.3L3469.2 558.6L3470.5 577.2L3471.8 578.3L3473 584L3474.3 566.3L3475.6 584.6L3476.8 565.2L3478.1 573.6L3479.3 579.7L3480.6 590.4L3481.9 563.7L3483.1 578.2L3484.4 551.2L3485.7 597.1L3486.9 570.4L3488.2 558.6L3489.4 571.8L3490.7 570.5L3492 569.6L3493.2 577.4L3494.5 569.1L3495.8 574L3497 571.8L3498.3 572L3499.5 568.9L3500.8 569.1L3502.1 603.8L3503.3 588.3L3504.6 579.4L3505.9 583.9L3507.1 553.7L3508.4 572.5L3509.7 550.4L3510.9 583.9L3512.2 591.5L3513.4 577.1L3514.7 580.9L3516 575L3517.2 581.1L3518.5 581.8L3519.8 591.2L3521 576.5L3522.3 556.5L3523.5 575.3L3524.8 562.2L3526.1 578.8L3527.3 588.8L3528.6 603.8L3529.9 577.6L3531.1 578.1L3532.4 577.8L3533.6 580L3534.9 603.8L3536.2 586.3L3537.4 579.6L3538.7 585.5L3540 576.7L3541.2 580.6L3542.5 569.2L3543.7 557.4L3545 570.9L3546.3 582.1L3547.5 573.7L3548.8 587.5L3550.1 559.8L3551.3 562.2L3552.6 562.7L3553.9 585.7L3555.1 593.8L3556.4 569L3557.6 579.9L3558.9 584.7L3560.2 574.6L3561.4 602.4L3562.7 585.6L3564 576.7L3565.2 562.3L3566.5 574.1L3567.7 576.1L3569 575.8L3570.3 576.4L3571.5 573.6L3572.8 586.9L3574.1 571.9L3575.3 577.1L3576.6 576.4L3577.8 580.1L3579.1 580.9L3580.4 573.9L3581.6 548.6L3582.9 550.2L3584.2 575.5L3585.4 585.9L3586.7 569.5L3588 559.3L3589.2 602.3L3590.5 567.5L3591.7 576.1L3593 548.4L3594.3 578.3L3595.5 572.1L3596.8 575.8L3598.1 580L3599.3 566.4L3600.6 586.9L3601.8 601.9L3603.1 603.8L3604.4 579.8L3605.6 570L3606.9 578.1L3608.2 574.7L3609.4 586.2L3610.7 574.9L3611.9 586.9L3613.2 568.1L3614.5 570.8L3615.7 591.3L3617 649.6" fill="none" stroke="#62b955" stroke-width="2.200" stroke-linejoin="round"/><path d="M2860.5 746.2L2862 742.7L2863.5 745.5L2865 745.7L2866.6 744.8L2868.1 743.8L2869.6 743.8L2871.1 741.8L2872.6 744.2L2874.1 743.8L2875.7 744.7L2877.2 744.4L2878.7 745.4L2880.2 742.6L2881.7 743.4L2883.2 745.5L2884.8 742.7L2886.3 744.6L2887.8 746.7L2889.3 743.1L2890.8 746.3L2892.3 747.8L2893.9 747.6L2895.4 740.6L2896.9 746.2L2898.4 742.8L2899.9 742L2901.4 746.6L2902.9 745.3L2904.5 744.8L2906 746.9L2907.5 743.8L2909 744.2L2910.5 742.3L2912 742.2L2913.6 744L2915.1 747.7L2916.6 746.7L2918.1 741.8L2919.6 744.6L2921.1 742.8L2922.7 744.6L2924.2 742.6L2925.7 744.6L2927.2 746.8L2928.7 747.7L2930.2 747.8L2931.8 744.9L2933.3 743.9L2934.8 746.2L2936.3 744.1L2937.8 737.6L2939.3 745.7L2940.8 744.4L2942.4 744.2L2943.9 746.6L2945.4 743.6L2946.9 736.8L2948.4 744.2L2949.9 743.2L2951.5 742L2953 744L2954.5 742.5L2956 743.2L2957.5 740.3L2959 745.7L2960.6 746.7L2962.1 742.4L2963.6 742.2L2965.1 745.3L2966.6 744.4L2968.1 743L2969.7 742.4L2971.2 745.3L2972.7 742L2974.2 744.6L2975.7 745.1L2977.2 742.9L2978.8 747.3L2980.3 743.1L2981.8 747.8L2983.3 744.7L2984.8 744.3L2986.3 742.3L2987.8 745.2L2989.4 741.3L2990.9 743L2992.4 745.2L2993.9 745.1L2995.4 744.3L2996.9 747.8L2998.5 743L3000 745.1L3001.5 745.6L3003 743.5L3004.5 745.3L3006 743.1L3007.6 747.4L3009.1 739.6L3010.6 735.8L3012.1 743.1L3013.6 747.6L3015.1 743.6L3016.7 744.1L3018.2 744.8L3019.7 741L3021.2 744.2L3022.7 737.4L3024.2 743.5L3025.7 747.8L3027.3 747.6L3028.8 746.5L3030.3 742L3031.8 745.2L3033.3 746.8L3034.8 747.8L3036.4 745.4L3037.9 744.1L3039.4 742.8L3040.9 747.5L3042.4 747.8L3043.9 747.8L3045.5 744.3L3047 742.1L3048.5 745.3L3050 743.5L3051.5 742.3L3053 744.6L3054.6 742.2L3056.1 741.8L3057.6 743.2L3059.1 742.8L3060.6 741.9L3062.1 745.1L3063.6 744.1L3065.2 741.6L3066.7 745.5L3068.2 743.5L3069.7 747.8L3071.2 744.4L3072.7 744.2L3074.3 746.1L3075.8 746.9L3077.3 745.1L3078.8 743L3080.3 739.5L3081.8 737.5L3083.4 744.9L3084.9 744.4L3086.4 743.8L3087.9 745.4L3089.4 745.7L3090.9 745.5L3092.5 744.7L3094 743.5L3095.5 742.5L3097 744.2L3098.5 737L3100 742.5L3101.5 742.9L3103.1 742L3104.6 745.1L3106.1 744.5L3107.6 745.1L3109.1 744.4L3110.6 746L3112.2 747.1L3113.7 746.1L3115.2 745L3116.7 737.4L3118.2 743.8L3119.7 745.8L3121.3 741.7L3122.8 746.8L3124.3 747.8L3125.8 747.8L3127.3 741.8L3128.8 744.4L3130.4 744.9L3131.9 744.9L3133.4 745.8L3134.9 743.2L3136.4 747.8L3137.9 742.1L3139.4 743.2L3141 746.8L3142.5 745.4L3144 746.8L3145.5 743.3L3147 743.7L3148.5 743.8L3150.1 743.4L3151.6 743.5L3153.1 745L3154.6 747.3L3156.1 743.4L3157.6 747.6L3159.2 745.5L3160.7 741.4L3162.2 744.2L3163.7 743.7L3165.2 746.9L3166.7 747.3L3168.3 743.8L3169.8 745.1L3171.3 744.1L3172.8 747.8L3174.3 743.1L3175.8 744.5L3177.4 747.8L3178.9 743L3180.4 745.5L3181.9 744.5L3183.4 745.3L3184.9 742L3186.4 743.9L3188 745L3189.5 743.7L3191 744.2L3192.5 745.2L3194 743.9L3195.5 742.5L3197.1 744.3L3198.6 746.7L3200.1 745.1L3201.6 746L3203.1 745.3L3204.6 741.3L3206.2 744.5L3207.7 744.2L3209.2 744.8L3210.7 743.3L3212.2 744.7L3213.7 743.2L3215.3 743.8L3216.8 745.2L3218.3 746.1L3219.8 745.8L3221.3 746.5L3222.8 747.7L3224.3 740.8L3225.9 743.2L3227.4 744.3L3228.9 742.7L3230.4 742.7L3231.9 745.2L3233.4 744.1L3235 740.5L3236.5 744.9L3238 745L3239.5 745.3L3241 744.8L3242.5 744.1L3244.1 747.8L3245.6 742.3L3247.1 741.7L3248.6 742.7L3250.1 745.5L3251.6 742.3L3253.2 743.2L3254.7 743.9L3256.2 745L3257.7 744.6L3259.2 744.9L3260.7 741.5L3262.2 742.6L3263.8 744.6L3265.3 743.6L3266.8 743.5L3268.3 743.1L3269.8 742.9L3271.3 747.8L3272.9 744.9L3274.4 743.6L3275.9 743.8L3277.4 744.9L3278.9 742.8L3280.4 744.6L3282 747.1L3283.5 746.5L3285 743.1L3286.5 743.7L3288 745.5L3289.5 743.8L3291.1 747.3L3292.6 737.8L3294.1 745.8L3295.6 742.4L3297.1 743.7L3298.6 745.2L3300.1 747.4L3301.7 744.1L3303.2 745.2L3304.7 745.6L3306.2 743.7L3307.7 745.2L3309.2 745.8L3310.8 742.2L3312.3 745.2L3313.8 744.7L3315.3 744.2L3316.8 742.8L3318.3 746.8L3319.9 741.6L3321.4 742.6L3322.9 742.3L3324.4 744.1L3325.9 746.1L3327.4 744.6L3329 744.2L3330.5 742.8L3332 747.8L3333.5 740.8L3335 745.5L3336.5 742.8L3338.1 742.5L3339.6 742.9L3341.1 742.6L3342.6 742.8L3344.1 745.1L3345.6 747.8L3347.1 740.6L3348.7 743.5L3350.2 743.5L3351.7 747.5L3353.2 744.9L3354.7 744.6L3356.2 737.2L3357.8 742.2L3359.3 745.5L3360.8 745L3362.3 745.1L3363.8 745.8L3365.3 745.4L3366.9 743.6L3368.4 744.3L3369.9 746.6L3371.4 743.7L3372.9 742.9L3374.4 744L3376 742.8L3377.5 744.2L3379 744.2L3380.5 744.4L3382 743L3383.5 744.8L3385 745L3386.6 745.7L3388.1 743.1L3389.6 742.8L3391.1 745.6L3392.6 745.2L3394.1 745.5L3395.7 746.6L3397.2 746.6L3398.7 744.1L3400.2 743.2L3401.7 745.1L3403.2 745L3404.8 746L3406.3 742.6L3407.8 744.5L3409.3 743.8L3410.8 746.8L3412.3 746.1L3413.9 743.4L3415.4 743.1L3416.9 747.8L3418.4 747.8L3419.9 742.7L3421.4 744.1L3422.9 745.7L3424.5 746.4L3426 743.6L3427.5 745.9L3429 744.4L3430.5 745.1L3432 743.6L3433.6 743L3435.1 747.8L3436.6 743.7L3438.1 747L3439.6 743.1L3441.1 741.8L3442.7 744.2L3444.2 744.7L3445.7 743.9L3447.2 746.7L3448.7 744.9L3450.2 745L3451.8 741.2L3453.3 744.9L3454.8 745.5L3456.3 747.1L3457.8 737L3459.3 742.6L3460.8 743L3462.4 746L3463.9 746.1L3465.4 747.8L3466.9 743.3L3468.4 744.7L3469.9 743.5L3471.5 743.1L3473 743.2L3474.5 744.3L3476 738.3L3477.5 744L3479 745.2L3480.6 743.3L3482.1 741.3L3483.6 743.8L3485.1 744.5L3486.6 745.8L3488.1 747.8L3489.7 743L3491.2 742.4L3492.7 747L3494.2 741.9L3495.7 741.9L3497.2 745.6L3498.7 747.1L3500.3 741.2L3501.8 745.9L3503.3 742.5L3504.8 744.5L3506.3 743.6L3507.8 744.2L3509.4 745L3510.9 747.1L3512.4 746.1L3513.9 746.6L3515.4 743L3516.9 743.3L3518.5 743.9L3520 744.3L3521.5 745.3L3523 744.2L3524.5 744.6L3526 746.2L3527.6 744.9L3529.1 744.8L3530.6 747.8L3532.1 743.9L3533.6 745.3L3535.1 745.3L3536.7 741.1L3538.2 744.8L3539.7 744.7L3541.2 744.2L3542.7 746.9L3544.2 745.8L3545.7 743.8L3547.3 744.4L3548.8 745.1L3550.3 745.5L3551.8 741.2L3553.3 739.1L3554.8 746.8L3556.4 745.3L3557.9 743.3L3559.4 747.8L3560.9 745.2L3562.4 747.8L3563.9 746.7L3565.5 743.5L3567 747.8L3568.5 745.6L3570 742.8L3571.5 744.3L3573 745.4L3574.6 745.3L3576.1 747.8L3577.6 741L3579.1 746.2L3580.6 743.1L3582.1 744.6L3583.6 746.7L3585.2 746.4L3586.7 745.3L3588.2 744.2L3589.7 746L3591.2 744.8L3592.7 742.4L3594.3 743.3L3595.8 742.5L3597.3 745.2L3598.8 741.6L3600.3 746L3601.8 745.6L3603.4 747.8L3604.9 746.2L3606.4 743.3L3607.9 743.9L3609.4 743.7L3610.9 745.9L3612.5 744.9L3614 744.6L3615.5 743.6L3617 743.3V749.5H2860.5z" fill="#e8432d"/><path d="M2860.5 749.5H3617M2940 749.5v9M3129.5 749.5v9M3318.5 749.5v9M3508 749.5v9" stroke="#6d7378" stroke-width="2.200" fill="none"/><text x="2940" y="782.7" text-anchor="middle" font-size="22.200" fill="#20262b">Tue 9</text><text x="3129.5" y="782.7" text-anchor="middle" font-size="22.200" fill="#20262b">12:00</text><text x="3318.5" y="782.7" text-anchor="middle" font-size="22.200" fill="#20262b">Wed 10</text><text x="3508" y="782.7" text-anchor="middle" font-size="22.200" fill="#20262b">12:00</text><text x="1980" y="903.2" text-anchor="end" font-size="22.200" fill="#20262b">600</text><text x="1980" y="986.2" text-anchor="end" font-size="22.200" fill="#20262b">400</text><text x="1980" y="1070.2" text-anchor="end" font-size="22.200" fill="#20262b">200</text><text x="1980" y="1153.2" text-anchor="end" font-size="22.200" fill="#20262b">0</text><path d="M1988.5 895.5H2745.5" stroke="#e8eaee" stroke-width="1.500" fill="none"/><path d="M1988.5 978.5H2745.5" stroke="#e8eaee" stroke-width="1.500" fill="none"/><path d="M1988.5 1062.5H2745.5" stroke="#e8eaee" stroke-width="1.500" fill="none"/><path d="M1988.5 968.9L1990.4 964.5L1992.3 964.5L1994.2 978.6L1996.1 972.4L1998 971.5L1999.9 967.1L2001.8 957.8L2003.7 962L2005.6 970.2L2007.5 981.3L2009.4 968L2011.3 963.7L2013.2 967.7L2015.1 958L2017 951L2018.9 975.4L2020.8 965.4L2022.7 964.7L2024.5 961.9L2026.4 956.3L2028.3 974.7L2030.2 982.6L2032.1 962L2034 965.4L2035.9 968.4L2037.8 968.2L2039.7 976.8L2041.6 969.3L2043.5 976L2045.4 973L2047.3 970.8L2049.2 958L2051.1 970.5L2053 969.3L2054.9 953.7L2056.8 962.3L2058.7 963.1L2060.6 969.2L2062.5 973.1L2064.4 961.4L2066.3 975.7L2068.2 970.5L2070.1 956.5L2072 973.8L2073.9 967.2L2075.8 965.2L2077.7 972.5L2079.6 971.2L2081.5 971.2L2083.4 980.2L2085.3 960.6L2087.2 978L2089.1 959.5L2091 964.7L2092.8 958.5L2094.7 964.6L2096.6 964.5L2098.5 964.9L2100.4 963.7L2102.3 961.4L2104.2 956.5L2106.1 965.2L2108 975.4L2109.9 983.8L2111.8 978.2L2113.7 971.3L2115.6 961.4L2117.5 958.6L2119.4 985.4L2121.3 962.7L2123.2 966.2L2125.1 967.8L2127 962.5L2128.9 986L2130.8 976.8L2132.7 969.8L2134.6 974L2136.5 972.1L2138.4 980.8L2140.3 973.4L2142.2 984.8L2144.1 968.6L2146 983L2147.9 972.5L2149.8 969.5L2151.7 973.9L2153.6 956.8L2155.5 969.6L2157.4 967.1L2159.3 967.5L2161.1 965.7L2163 980L2164.9 961.1L2166.8 973.3L2168.7 977.8L2170.6 971.9L2172.5 969.1L2174.4 965.1L2176.3 964.1L2178.2 974.4L2180.1 976.2L2182 977L2183.9 988.7L2185.8 976.9L2187.7 971.1L2189.6 964.9L2191.5 962.7L2193.4 970L2195.3 966.3L2197.2 969.7L2199.1 967L2201 964.2L2202.9 970.7L2204.8 970.3L2206.7 973L2208.6 967.1L2210.5 977.2L2212.4 984.1L2214.3 971.2L2216.2 967.7L2218.1 975.5L2220 970.3L2221.9 968.9L2223.8 956.4L2225.7 962.9L2227.6 963.8L2229.4 980.6L2231.3 974.5L2233.2 974.2L2235.1 967.5L2237 970L2238.9 970.8L2240.8 964.4L2242.7 968.6L2244.6 978.8L2246.5 974.8L2248.4 966.2L2250.3 977.2L2252.2 966L2254.1 980.8L2256 979.2L2257.9 971.2L2259.8 961.6L2261.7 967.2L2263.6 960.2L2265.5 970.5L2267.4 975.6L2269.3 964.2L2271.2 969.4L2273.1 967.9L2275 969.9L2276.9 976.1L2278.8 976.5L2280.7 980L2282.6 979.4L2284.5 979L2286.4 979.1L2288.3 964.6L2290.2 966.4L2292.1 964.7L2294 960.6L2295.9 967.4L2297.8 959.5L2299.6 964.4L2301.5 976.1L2303.4 980.9L2305.3 987.1L2307.2 977.3L2309.1 978.1L2311 968.1L2312.9 958.8L2314.8 977L2316.7 959.4L2318.6 966.3L2320.5 962.7L2322.4 964.8L2324.3 968.5L2326.2 961.3L2328.1 961.1L2330 968.4L2331.9 966.2L2333.8 962.2L2335.7 970.2L2337.6 978.2L2339.5 959.2L2341.4 964.5L2343.3 963L2345.2 982.4L2347.1 971.2L2349 976L2350.9 972.6L2352.8 945.3L2354.7 964.7L2356.6 960.6L2358.5 970.3L2360.4 975.9L2362.3 949.3L2364.2 955.8L2366.1 967.2L2367.9 967.9L2369.8 964.7L2371.7 979.1L2373.6 971.9L2375.5 967.3L2377.4 965.6L2379.3 958.3L2381.2 961.6L2383.1 968.5L2385 970.2L2386.9 961.8L2388.8 947.1L2390.7 952.3L2392.6 981.3L2394.5 977.5L2396.4 956.7L2398.3 951L2400.2 956.5L2402.1 970L2404 959.1L2405.9 957.9L2407.8 963.5L2409.7 954L2411.6 968.7L2413.5 970.6L2415.4 965.5L2417.3 971.7L2419.2 963.5L2421.1 970.7L2423 968.6L2424.9 965L2426.8 975L2428.7 973.7L2430.6 967.1L2432.5 960.8L2434.4 958.6L2436.2 964.6L2438.1 977.1L2440 979.8L2441.9 966.6L2443.8 974.9L2445.7 963.2L2447.6 960L2449.5 976.5L2451.4 978.8L2453.3 965.3L2455.2 957.7L2457.1 958.1L2459 968.2L2460.9 966.3L2462.8 965.8L2464.7 969.8L2466.6 967L2468.5 954.2L2470.4 962.7L2472.3 961.5L2474.2 966.9L2476.1 970L2478 971.3L2479.9 973.1L2481.8 978.1L2483.7 970L2485.6 974.2L2487.5 968.5L2489.4 968.3L2491.3 979.3L2493.2 975L2495.1 973.9L2497 966.2L2498.9 959.4L2500.8 955.6L2502.7 959.3L2504.6 964.2L2506.4 977.8L2508.3 978.8L2510.2 967.5L2512.1 979.7L2514 977.4L2515.9 970.1L2517.8 967.5L2519.7 971.2L2521.6 962.6L2523.5 969.3L2525.4 957.1L2527.3 965.2L2529.2 968.1L2531.1 966.7L2533 970L2534.9 978L2536.8 977.2L2538.7 969.1L2540.6 961.5L2542.5 963.7L2544.4 965L2546.3 968.2L2548.2 969L2550.1 971.9L2552 967L2553.9 963.2L2555.8 956.6L2557.7 964.3L2559.6 964.1L2561.5 955L2563.4 973.8L2565.3 973.5L2567.2 966.1L2569.1 966.8L2571 975.7L2572.9 976.2L2574.7 965.5L2576.6 972.1L2578.5 950.7L2580.4 955.5L2582.3 968.7L2584.2 967.8L2586.1 962.2L2588 949L2589.9 954.9L2591.8 968.8L2593.7 962.5L2595.6 960.1L2597.5 981.5L2599.4 975.7L2601.3 961.6L2603.2 978.9L2605.1 969.7L2607 960.8L2608.9 971.1L2610.8 959.3L2612.7 947L2614.6 958L2616.5 961.5L2618.4 968.7L2620.3 973.1L2622.2 972.4L2624.1 970.1L2626 983.9L2627.9 965.2L2629.8 963.1L2631.7 964.9L2633.6 959.5L2635.5 963.6L2637.4 959.6L2639.3 970L2641.2 960.4L2643 963.7L2644.9 968L2646.8 969.2L2648.7 968L2650.6 956L2652.5 964.2L2654.4 967.3L2656.3 974.6L2658.2 967.2L2660.1 962.7L2662 963.1L2663.9 956.5L2665.8 967.3L2667.7 974L2669.6 953.7L2671.5 985.2L2673.4 975.9L2675.3 967L2677.2 976L2679.1 989L2681 977.1L2682.9 961.9L2684.8 974L2686.7 967.3L2688.6 975.1L2690.5 978.6L2692.4 964.4L2694.3 974.1L2696.2 966.3L2698.1 969L2700 971.6L2701.9 965.3L2703.8 959.7L2705.7 964.9L2707.6 971.1L2709.5 966.7L2711.3 962L2713.2 975.5L2715.1 966.4L2717 961.3L2718.9 970.8L2720.8 972.3L2722.7 960.1L2724.6 949.1L2726.5 964L2728.4 964.6L2730.3 965.6L2732.2 975.1L2734.1 973L2736 973.3L2737.9 972L2739.8 968.4L2741.7 986.2L2743.6 981L2745.5 999.7" fill="none" stroke="#5b4cc4" stroke-width="4.500" stroke-linejoin="round"/><path d="M1988.5 1114.3L1990.4 1099.7L1992.3 1087.2L1994.2 1105L1996.1 1103.3L1998 1111.8L1999.9 1095.8L2001.8 1096.6L2003.7 1097.6L2005.6 1104L2007.5 1108.9L2009.4 1096L2011.3 1095.1L2013.2 1093.3L2015.1 1087.8L2017 1081L2018.9 1083.7L2020.8 1082.7L2022.7 1087.4L2024.5 1087.9L2026.4 1094.2L2028.3 1093.8L2030.2 1102.3L2032.1 1105.6L2034 1104.1L2035.9 1102.2L2037.8 1088.1L2039.7 1090.3L2041.6 1096L2043.5 1107.7L2045.4 1099.5L2047.3 1105.4L2049.2 1105.3L2051.1 1095.3L2053 1090.5L2054.9 1095.6L2056.8 1105.8L2058.7 1109.6L2060.6 1095.5L2062.5 1095.9L2064.4 1093.2L2066.3 1104.2L2068.2 1095.2L2070.1 1103L2072 1103L2073.9 1095.9L2075.8 1101.3L2077.7 1106.2L2079.6 1104.2L2081.5 1107.3L2083.4 1092L2085.3 1101.2L2087.2 1097L2089.1 1095.4L2091 1098.9L2092.8 1097.1L2094.7 1108.4L2096.6 1110.9L2098.5 1109.8L2100.4 1101.9L2102.3 1094.5L2104.2 1096.2L2106.1 1096.4L2108 1098.9L2109.9 1111.2L2111.8 1098.2L2113.7 1097.1L2115.6 1089.2L2117.5 1102.6L2119.4 1094.4L2121.3 1108.4L2123.2 1103.7L2125.1 1111.8L2127 1110L2128.9 1102.1L2130.8 1111.3L2132.7 1108.6L2134.6 1092.3L2136.5 1090.4L2138.4 1090.6L2140.3 1096.4L2142.2 1107.6L2144.1 1103.5L2146 1096.2L2147.9 1098.4L2149.8 1115.6L2151.7 1096.5L2153.6 1100.3L2155.5 1092L2157.4 1095.3L2159.3 1100.3L2161.1 1096L2163 1091.8L2164.9 1096.6L2166.8 1094L2168.7 1100.3L2170.6 1099.2L2172.5 1099.2L2174.4 1090.6L2176.3 1094.4L2178.2 1093.5L2180.1 1107.4L2182 1088.6L2183.9 1099.9L2185.8 1094.5L2187.7 1096.8L2189.6 1099.9L2191.5 1098.5L2193.4 1094.7L2195.3 1095.8L2197.2 1106.1L2199.1 1108.5L2201 1096.4L2202.9 1096.9L2204.8 1097.3L2206.7 1103.9L2208.6 1093.4L2210.5 1098.2L2212.4 1090.5L2214.3 1100.7L2216.2 1105.7L2218.1 1101.5L2220 1107L2221.9 1108.7L2223.8 1112.9L2225.7 1101.9L2227.6 1094.4L2229.4 1096L2231.3 1098.8L2233.2 1092.8L2235.1 1094.9L2237 1100L2238.9 1108L2240.8 1107.9L2242.7 1099.2L2244.6 1096L2246.5 1086.5L2248.4 1094L2250.3 1112.7L2252.2 1103.1L2254.1 1099.8L2256 1097.1L2257.9 1094.2L2259.8 1099.1L2261.7 1089.5L2263.6 1099.3L2265.5 1101.4L2267.4 1092L2269.3 1090.7L2271.2 1099.8L2273.1 1093.8L2275 1095.6L2276.9 1094.7L2278.8 1108.4L2280.7 1104.9L2282.6 1101L2284.5 1103.7L2286.4 1099.5L2288.3 1098.3L2290.2 1098.1L2292.1 1095.7L2294 1106.8L2295.9 1099.6L2297.8 1095.9L2299.6 1111L2301.5 1110.9L2303.4 1103.6L2305.3 1104.9L2307.2 1100.6L2309.1 1094.8L2311 1103.1L2312.9 1100.5L2314.8 1097.4L2316.7 1105.3L2318.6 1104.2L2320.5 1098.2L2322.4 1110L2324.3 1105.2L2326.2 1098.5L2328.1 1089.9L2330 1101L2331.9 1107.9L2333.8 1101.4L2335.7 1099.6L2337.6 1091.3L2339.5 1091.2L2341.4 1098.6L2343.3 1093.9L2345.2 1089.4L2347.1 1112.7L2349 1110.3L2350.9 1109.3L2352.8 1107.5L2354.7 1104.7L2356.6 1098.2L2358.5 1104.3L2360.4 1099.8L2362.3 1105.4L2364.2 1098.1L2366.1 1098.9L2367.9 1102.3L2369.8 1093L2371.7 1097L2373.6 1100L2375.5 1116.2L2377.4 1102.3L2379.3 1111L2381.2 1114.6L2383.1 1113.1L2385 1109.3L2386.9 1106.6L2388.8 1101.7L2390.7 1106L2392.6 1103L2394.5 1102.8L2396.4 1096.4L2398.3 1103.2L2400.2 1091.2L2402.1 1103.4L2404 1103.2L2405.9 1107.1L2407.8 1103.2L2409.7 1097.2L2411.6 1095.7L2413.5 1097.7L2415.4 1088.8L2417.3 1092L2419.2 1106.1L2421.1 1103.7L2423 1077.4L2424.9 1097.4L2426.8 1099.1L2428.7 1093.3L2430.6 1086.8L2432.5 1092.7L2434.4 1091.4L2436.2 1097.3L2438.1 1100.1L2440 1109.1L2441.9 1100.2L2443.8 1104.7L2445.7 1096.3L2447.6 1106.3L2449.5 1104L2451.4 1106.2L2453.3 1105.5L2455.2 1103.1L2457.1 1100.8L2459 1101.5L2460.9 1097.1L2462.8 1107.2L2464.7 1098.4L2466.6 1111.2L2468.5 1101.8L2470.4 1092.9L2472.3 1099.4L2474.2 1101.8L2476.1 1107.6L2478 1099.4L2479.9 1104.1L2481.8 1108.4L2483.7 1098L2485.6 1114.3L2487.5 1110.5L2489.4 1091L2491.3 1097.7L2493.2 1097L2495.1 1100.8L2497 1105.1L2498.9 1093.3L2500.8 1094.5L2502.7 1106.7L2504.6 1101.1L2506.4 1099.6L2508.3 1106.9L2510.2 1094.6L2512.1 1098.1L2514 1096.1L2515.9 1098.9L2517.8 1090.2L2519.7 1099.2L2521.6 1104.4L2523.5 1101.6L2525.4 1122L2527.3 1114.3L2529.2 1102.5L2531.1 1106.8L2533 1094.8L2534.9 1103.6L2536.8 1104.5L2538.7 1106.1L2540.6 1103.8L2542.5 1101.5L2544.4 1118.1L2546.3 1101.8L2548.2 1098.7L2550.1 1093.8L2552 1098.2L2553.9 1096.3L2555.8 1103.7L2557.7 1100.7L2559.6 1106.2L2561.5 1095.8L2563.4 1109.7L2565.3 1101.9L2567.2 1106.2L2569.1 1105.3L2571 1108.6L2572.9 1105.7L2574.7 1108.2L2576.6 1096.9L2578.5 1094.9L2580.4 1091.9L2582.3 1100.3L2584.2 1102.7L2586.1 1103.5L2588 1087.6L2589.9 1094.5L2591.8 1088.3L2593.7 1092L2595.6 1096.8L2597.5 1088.3L2599.4 1108.4L2601.3 1103.5L2603.2 1100.4L2605.1 1098.3L2607 1105.7L2608.9 1106.1L2610.8 1106.2L2612.7 1107.5L2614.6 1088.9L2616.5 1109.8L2618.4 1106.3L2620.3 1109.8L2622.2 1105.9L2624.1 1106.2L2626 1107.5L2627.9 1106.9L2629.8 1106.8L2631.7 1115L2633.6 1111.3L2635.5 1101.6L2637.4 1099.5L2639.3 1111.8L2641.2 1110.5L2643 1101.3L2644.9 1097.6L2646.8 1105.5L2648.7 1102.6L2650.6 1100.4L2652.5 1097.2L2654.4 1100.6L2656.3 1103.3L2658.2 1106.4L2660.1 1093.4L2662 1102L2663.9 1097.6L2665.8 1092.8L2667.7 1110L2669.6 1103.1L2671.5 1090.7L2673.4 1093.8L2675.3 1090.9L2677.2 1094.1L2679.1 1098.6L2681 1102.3L2682.9 1121.8L2684.8 1106.2L2686.7 1096.9L2688.6 1105.1L2690.5 1102.8L2692.4 1088.1L2694.3 1087.3L2696.2 1093.3L2698.1 1091.2L2700 1102.8L2701.9 1096.4L2703.8 1102.8L2705.7 1091.9L2707.6 1100.8L2709.5 1097.1L2711.3 1094.2L2713.2 1101.1L2715.1 1097.8L2717 1098L2718.9 1105.5L2720.8 1089L2722.7 1099.2L2724.6 1087.4L2726.5 1104.2L2728.4 1096.1L2730.3 1096.6L2732.2 1088.6L2734.1 1096.4L2736 1111.6L2737.9 1102.7L2739.8 1103.5L2741.7 1105.5L2743.6 1095.3L2745.5 1100.9" fill="none" stroke="#e9bc3a" stroke-width="4.500" stroke-linejoin="round"/><path d="M1988.5 1141.2L1994.9 1141.9L2001.2 1142.5L2007.6 1143.1L2013.9 1141.9L2020.3 1142.5L2026.7 1141.6L2033 1141.6L2039.4 1141.5L2045.8 1143.4L2052.1 1141.1L2058.5 1142.1L2064.8 1141.4L2071.2 1141.2L2077.6 1141.9L2083.9 1143.4L2090.3 1141.2L2096.6 1141.3L2103 1140.4L2109.4 1141.1L2115.7 1142.7L2122.1 1142L2128.4 1141.3L2134.8 1141L2141.2 1141.2L2147.5 1141.6L2153.9 1142.3L2160.3 1141.7L2166.6 1143.4L2173 1141.1L2179.3 1141.6L2185.7 1142.3L2192.1 1141.3L2198.4 1143L2204.8 1141.9L2211.1 1142L2217.5 1142.3L2223.9 1142.8L2230.2 1141.2L2236.6 1142.6L2243 1140.1L2249.3 1142L2255.7 1142.5L2262 1141.8L2268.4 1141.7L2274.8 1142.4L2281.1 1141L2287.5 1142.3L2293.8 1142.3L2300.2 1142.2L2306.6 1141.4L2312.9 1142.8L2319.3 1141.3L2325.7 1142.1L2332 1140.6L2338.4 1142.1L2344.7 1141.1L2351.1 1142L2357.5 1141.5L2363.8 1141.4L2370.2 1141.4L2376.5 1142.1L2382.9 1141.5L2389.3 1140.8L2395.6 1141.6L2402 1141.5L2408.3 1142.1L2414.7 1142.8L2421.1 1140.9L2427.4 1141.3L2433.8 1141.8L2440.2 1141.6L2446.5 1141.7L2452.9 1143.4L2459.2 1142.2L2465.6 1142.2L2472 1141.9L2478.3 1142.2L2484.7 1142.6L2491 1141L2497.4 1141L2503.8 1143L2510.1 1141.8L2516.5 1142.4L2522.9 1141.4L2529.2 1141.2L2535.6 1140.9L2541.9 1140.9L2548.3 1142.9L2554.7 1142.2L2561 1141.1L2567.4 1141.7L2573.7 1142.1L2580.1 1141.2L2586.5 1143L2592.8 1141.7L2599.2 1143.1L2605.6 1141.4L2611.9 1142.2L2618.3 1141.8L2624.6 1140.6L2631 1142.1L2637.4 1141.8L2643.7 1141.5L2650.1 1142.5L2656.4 1143L2662.8 1130.3L2669.2 1143L2675.5 1141.1L2681.9 1143.4L2688.2 1142L2694.6 1141.7L2701 1142.2L2707.3 1142L2713.7 1141.3L2720.1 1141.8L2726.4 1140.3L2732.8 1141.9L2739.1 1142.3L2745.5 1142.4" fill="none" stroke="#84a9ea" stroke-width="4" stroke-linejoin="round"/><path d="M1988.5 1141.5H2745.5" stroke="#3f8fe0" stroke-width="4" fill="none"/><path d="M1988.5 1145.5H2745.5M2068.5 1145.5v9M2258 1145.5v9M2447 1145.5v9M2636.5 1145.5v9" stroke="#6d7378" stroke-width="2.200" fill="none"/><text x="2068.5" y="1178.7" text-anchor="middle" font-size="22.200" fill="#20262b">Tue 9</text><text x="2258" y="1178.7" text-anchor="middle" font-size="22.200" fill="#20262b">12:00</text><text x="2447" y="1178.7" text-anchor="middle" font-size="22.200" fill="#20262b">Wed 10</text><text x="2636.5" y="1178.7" text-anchor="middle" font-size="22.200" fill="#20262b">12:00</text><text x="2852" y="903.2" text-anchor="end" font-size="22.200" fill="#20262b">400</text><text x="2852" y="1027.7" text-anchor="end" font-size="22.200" fill="#20262b">200</text><text x="2852" y="1153.2" text-anchor="end" font-size="22.200" fill="#20262b">0</text><path d="M2860.5 895.5H3617" stroke="#e8eaee" stroke-width="1.500" fill="none"/><path d="M2860.5 977.5L2861.7 999.4L2862.9 983L2864.1 988.3L2865.2 974L2866.4 982.1L2867.6 977.1L2868.8 972.4L2870 981.2L2871.2 987.7L2872.3 973.5L2873.5 975.9L2874.7 971.6L2875.9 973.4L2877.1 980.3L2878.3 976.7L2879.4 1000.1L2880.6 974.1L2881.8 993.8L2883 978.6L2884.2 978.6L2885.4 993L2886.5 974.2L2887.7 979L2888.9 973.7L2890.1 974.6L2891.3 977.4L2892.5 969L2893.6 978.2L2894.8 990.9L2896 979.4L2897.2 983.7L2898.4 985.9L2899.6 970.5L2900.8 974.2L2901.9 962.5L2903.1 979L2904.3 976.3L2905.5 976.1L2906.7 974.4L2907.9 975.1L2909 990.8L2910.2 974.5L2911.4 974.2L2912.6 975.4L2913.8 984.7L2915 978.6L2916.1 965.4L2917.3 977.4L2918.5 973.2L2919.7 974.9L2920.9 974.1L2922.1 981.8L2923.2 1001.2L2924.4 977.8L2925.6 977.3L2926.8 964.9L2928 982.9L2929.2 976.5L2930.3 981.9L2931.5 986.3L2932.7 972.7L2933.9 974.9L2935.1 983.7L2936.3 980.2L2937.5 985L2938.6 983.4L2939.8 981.5L2941 962.5L2942.2 978.9L2943.4 966.3L2944.6 977.2L2945.7 983.9L2946.9 967.8L2948.1 982.6L2949.3 955.1L2950.5 973.6L2951.7 981.2L2952.8 979.1L2954 993.9L2955.2 984.6L2956.4 982.1L2957.6 975.5L2958.8 974.3L2959.9 996.1L2961.1 978.7L2962.3 978.5L2963.5 973.2L2964.7 975.1L2965.9 977.7L2967 992.6L2968.2 966.2L2969.4 972.7L2970.6 999L2971.8 981.3L2973 962.9L2974.2 972.3L2975.3 980.5L2976.5 968.2L2977.7 981.1L2978.9 990.9L2980.1 957.2L2981.3 975.5L2982.4 976.1L2983.6 1001.9L2984.8 974.7L2986 975L2987.2 978.6L2988.4 973.4L2989.5 982.9L2990.7 974.7L2991.9 985.5L2993.1 973.2L2994.3 983.3L2995.5 974.6L2996.6 998.7L2997.8 979L2999 960.3L3000.2 986.6L3001.4 974.1L3002.6 981L3003.7 987.8L3004.9 985.7L3006.1 972.8L3007.3 969.2L3008.5 965.5L3009.7 959.6L3010.9 998L3012 990.3L3013.2 968.4L3014.4 979.6L3015.6 982.8L3016.8 962.7L3018 986.8L3019.1 970.9L3020.3 974.8L3021.5 999.8L3022.7 969.7L3023.9 985.8L3025.1 966.4L3026.2 977.1L3027.4 975.8L3028.6 965.6L3029.8 1008.4L3031 974L3032.2 976.5L3033.3 965.4L3034.5 984.7L3035.7 979.5L3036.9 977.3L3038.1 951.1L3039.3 977.2L3040.4 975.7L3041.6 984.3L3042.8 976.5L3044 979.9L3045.2 970.1L3046.4 985.1L3047.6 981.6L3048.7 981.5L3049.9 975.7L3051.1 982.5L3052.3 999.2L3053.5 979L3054.7 975.4L3055.8 971.9L3057 982.8L3058.2 977.2L3059.4 979.2L3060.6 1005.4L3061.8 996.6L3062.9 974L3064.1 978.4L3065.3 981.7L3066.5 970.6L3067.7 972.9L3068.9 970.5L3070 971.4L3071.2 982.2L3072.4 983.4L3073.6 974.4L3074.8 964.7L3076 991.9L3077.2 990.3L3078.3 971.9L3079.5 974.3L3080.7 989.3L3081.9 981.3L3083.1 954.1L3084.3 995.1L3085.4 959.3L3086.6 986.1L3087.8 977.6L3089 975.7L3090.2 977.1L3091.4 985.8L3092.5 960.6L3093.7 980.9L3094.9 946L3096.1 978.7L3097.3 961.9L3098.5 984.2L3099.6 981.2L3100.8 979.9L3102 975.6L3103.2 977.8L3104.4 979.8L3105.6 984.2L3106.7 972.6L3107.9 970L3109.1 974.8L3110.3 961.5L3111.5 978L3112.7 978.3L3113.9 980.2L3115 974.5L3116.2 979.2L3117.4 982.8L3118.6 969.4L3119.8 949.5L3121 975.9L3122.1 992.1L3123.3 986.5L3124.5 977.5L3125.7 994.8L3126.9 974.4L3128.1 982.4L3129.2 955.5L3130.4 968.7L3131.6 981.7L3132.8 967.4L3134 981.5L3135.2 975.5L3136.3 984.9L3137.5 953.4L3138.7 980.1L3139.9 978.9L3141.1 971.8L3142.3 976.2L3143.4 989.7L3144.6 987.9L3145.8 976.2L3147 975.8L3148.2 970.1L3149.4 958.9L3150.6 978.7L3151.7 979.1L3152.9 976.4L3154.1 974.4L3155.3 976.4L3156.5 969.6L3157.7 966L3158.8 973.2L3160 986.7L3161.2 977.9L3162.4 978.1L3163.6 979.3L3164.8 976.4L3165.9 975.2L3167.1 978.4L3168.3 989L3169.5 978.9L3170.7 978.9L3171.9 976.4L3173 984.5L3174.2 971.1L3175.4 980.9L3176.6 973.9L3177.8 976.8L3179 969.1L3180.1 978.4L3181.3 978.9L3182.5 983.5L3183.7 975.7L3184.9 986.7L3186.1 985.9L3187.3 974.2L3188.4 967.7L3189.6 972.1L3190.8 974.3L3192 984.5L3193.2 977.4L3194.4 974.5L3195.5 971.5L3196.7 976.8L3197.9 969.2L3199.1 995.7L3200.3 952.4L3201.5 978.5L3202.6 977.2L3203.8 978.5L3205 975.5L3206.2 984.1L3207.4 985.4L3208.6 996.6L3209.7 992.3L3210.9 976.4L3212.1 990.3L3213.3 979.8L3214.5 963.4L3215.7 977.2L3216.8 977.3L3218 981L3219.2 979.2L3220.4 969.6L3221.6 969L3222.8 971L3224 976.6L3225.1 985L3226.3 989.9L3227.5 977.6L3228.7 978.4L3229.9 970.4L3231.1 959.2L3232.2 990.7L3233.4 982.1L3234.6 981.7L3235.8 980.2L3237 972.6L3238.2 967.6L3239.3 977.5L3240.5 982.6L3241.7 985L3242.9 985.6L3244.1 983.4L3245.3 958L3246.4 972.2L3247.6 957L3248.8 972.6L3250 982.8L3251.2 981.4L3252.4 995.8L3253.5 985.5L3254.7 972.9L3255.9 977.9L3257.1 992.8L3258.3 976L3259.5 985.2L3260.7 992.8L3261.8 987.1L3263 973.3L3264.2 978.4L3265.4 964.7L3266.6 977.9L3267.8 985.3L3268.9 984.1L3270.1 983.8L3271.3 972.5L3272.5 1001.5L3273.7 973.7L3274.9 965.9L3276 964.7L3277.2 978.8L3278.4 990L3279.6 953.6L3280.8 965.6L3282 973.9L3283.1 970.8L3284.3 967.9L3285.5 970L3286.7 978.5L3287.9 979.5L3289.1 978.1L3290.2 970.7L3291.4 981.7L3292.6 988.6L3293.8 972L3295 983.9L3296.2 979.8L3297.4 977.6L3298.5 974.5L3299.7 956.8L3300.9 966.8L3302.1 999.1L3303.3 955.6L3304.5 994L3305.6 996.1L3306.8 977.8L3308 959.1L3309.2 976.5L3310.4 988L3311.6 977.1L3312.7 975.5L3313.9 974.2L3315.1 976.2L3316.3 981.5L3317.5 956.9L3318.7 971.7L3319.8 977L3321 1010.6L3322.2 976.4L3323.4 976.9L3324.6 983L3325.8 979.2L3326.9 971.6L3328.1 980.9L3329.3 970.9L3330.5 983.1L3331.7 981.7L3332.9 956.9L3334.1 979.7L3335.2 976.3L3336.4 976.2L3337.6 972.1L3338.8 965.3L3340 949.7L3341.2 977L3342.3 981.2L3343.5 964.5L3344.7 972.9L3345.9 977.6L3347.1 976.1L3348.3 987.9L3349.4 968.2L3350.6 963.2L3351.8 972.7L3353 977.6L3354.2 970.8L3355.4 987.3L3356.5 976.1L3357.7 988.3L3358.9 970L3360.1 976.1L3361.3 984.1L3362.5 998.6L3363.6 972.5L3364.8 959.4L3366 978.8L3367.2 987L3368.4 970.5L3369.6 978.7L3370.8 985.6L3371.9 975.3L3373.1 968.5L3374.3 963.2L3375.5 981.6L3376.7 975.2L3377.9 976.5L3379 995.6L3380.2 975L3381.4 973.8L3382.6 985.6L3383.8 972.3L3385 981.7L3386.1 975.9L3387.3 973.2L3388.5 978.7L3389.7 989.7L3390.9 978.7L3392.1 978.5L3393.2 978.4L3394.4 979.8L3395.6 961.2L3396.8 976.7L3398 982.5L3399.2 973.6L3400.3 973.7L3401.5 973.6L3402.7 981.5L3403.9 980.4L3405.1 970.6L3406.3 974.9L3407.5 978L3408.6 965.8L3409.8 974.7L3411 977.1L3412.2 973.5L3413.4 977.5L3414.6 981.4L3415.7 977.7L3416.9 977.4L3418.1 972.1L3419.3 974.9L3420.5 983.1L3421.7 980.1L3422.8 966.3L3424 977.3L3425.2 978.8L3426.4 984.2L3427.6 972.8L3428.8 956.9L3429.9 974.2L3431.1 977.7L3432.3 981.8L3433.5 983.2L3434.7 980.3L3435.9 970.5L3437.1 1001.3L3438.2 995.5L3439.4 978.9L3440.6 971.1L3441.8 980.8L3443 972.1L3444.2 964.2L3445.3 991.2L3446.5 970L3447.7 980L3448.9 974.9L3450.1 968.6L3451.3 976.3L3452.4 977.9L3453.6 981L3454.8 971.5L3456 983.4L3457.2 960.5L3458.4 979.4L3459.5 973.4L3460.7 976.1L3461.9 999.2L3463.1 989L3464.3 977.9L3465.5 1009.2L3466.6 994.5L3467.8 985.6L3469 977.4L3470.2 974.1L3471.4 978.3L3472.6 983.2L3473.8 969.5L3474.9 980L3476.1 972.4L3477.3 980.1L3478.5 973.1L3479.7 978.7L3480.9 986.5L3482 996.2L3483.2 979.4L3484.4 975.9L3485.6 966.3L3486.8 983.8L3488 973.5L3489.1 976.4L3490.3 976.5L3491.5 976.2L3492.7 983.8L3493.9 997.2L3495.1 986.1L3496.2 986.5L3497.4 984.9L3498.6 956L3499.8 988.6L3501 977L3502.2 979.3L3503.3 975.5L3504.5 984.7L3505.7 983.7L3506.9 978.1L3508.1 974.6L3509.3 1005.5L3510.5 976.2L3511.6 974.4L3512.8 959.6L3514 975L3515.2 970.7L3516.4 981L3517.6 992.9L3518.7 965L3519.9 990.2L3521.1 975L3522.3 983.4L3523.5 980.9L3524.7 962.9L3525.8 954.3L3527 968.6L3528.2 958.9L3529.4 988.4L3530.6 981.5L3531.8 980.6L3532.9 958.9L3534.1 977.1L3535.3 982.5L3536.5 972.8L3537.7 998.8L3538.9 982.4L3540 968.5L3541.2 974.4L3542.4 985.8L3543.6 968L3544.8 979.9L3546 960.3L3547.2 975.5L3548.3 977.1L3549.5 978.7L3550.7 983.3L3551.9 980.6L3553.1 946L3554.3 975.5L3555.4 970L3556.6 982.8L3557.8 979.5L3559 980.3L3560.2 976.4L3561.4 991.9L3562.5 973.9L3563.7 974.9L3564.9 991.2L3566.1 978.1L3567.3 981.2L3568.5 983.6L3569.6 988L3570.8 977.1L3572 977.6L3573.2 975.1L3574.4 981.5L3575.6 969.6L3576.7 982.2L3577.9 980.4L3579.1 977.7L3580.3 965.2L3581.5 958.7L3582.7 981.6L3583.9 999.7L3585 963L3586.2 998.3L3587.4 999.8L3588.6 989.1L3589.8 987L3591 970L3592.1 982L3593.3 974.7L3594.5 969.2L3595.7 996.9L3596.9 979.1L3598.1 977.9L3599.2 973.2L3600.4 976.9L3601.6 984.5L3602.8 946L3604 999.5L3605.2 969.6L3606.3 973.8L3607.5 979.8L3608.7 996.7L3609.9 979.2L3611.1 979.9L3612.3 995.7L3613.4 977.8L3614.6 998.2L3615.8 1002.6L3617 961.3V1145.5H2860.5z" fill="#4398e8"/><path d="M2860.5 1143H3617" stroke="#b79ad8" stroke-width="2" fill="none"/><path d="M2860.5 1145.5H3617M2940 1145.5v9M3129.5 1145.5v9M3318.5 1145.5v9M3508 1145.5v9" stroke="#6d7378" stroke-width="2.200" fill="none"/><text x="2940" y="1178.7" text-anchor="middle" font-size="22.200" fill="#20262b">Tue 9</text><text x="3129.5" y="1178.7" text-anchor="middle" font-size="22.200" fill="#20262b">12:00</text><text x="3318.5" y="1178.7" text-anchor="middle" font-size="22.200" fill="#20262b">Wed 10</text><text x="3508" y="1178.7" text-anchor="middle" font-size="22.200" fill="#20262b">12:00</text></svg>
<svg style="left:1912px;top:1279.500px" width="1715" height="440" viewBox="1912 1279.500 1715 440"><defs><clipPath id="mc"><rect x="1912" y="1279.500" width="1715" height="440"/></clipPath></defs><g clip-path="url(#mc)" stroke="#9a9da0" stroke-width="1.600" stroke-linejoin="round"><path d="M2606.1 1381L2593.8 1373.7L2583.2 1354.1L2577.2 1336.1L2575.7 1316.2L2584.8 1309.4L2574.2 1303.2L2572.7 1289.1L2566.7 1268.5L2557.7 1245.2L2678.1 1245.2L2679.6 1263L2672.1 1284.2L2672.1 1303.2L2660 1316.2L2648 1322.8L2635.9 1336.1L2623.9 1342.8L2617.9 1347.1L2613.4 1360.9L2609.4 1373.7z" fill="#f0f0f1"/><path d="M2665.1 1343.5L2672.1 1336.9L2684.1 1338.4L2694.3 1337.6L2697.4 1347.1L2690.1 1354.1L2681.1 1358.2L2670.6 1354.8L2672.1 1348.6z" fill="#f0f0f1"/><path d="M2313.8 1311.1L2319.8 1312L2328.8 1317.1L2334.9 1312L2343.9 1308.5L2352.9 1304.1L2362 1309.4L2365 1312.8L2374 1309.4L2386 1317.1L2392.1 1325.3L2407.1 1325.3L2413.1 1322.8L2419.2 1319.6L2431.2 1326.1L2443.3 1326.1L2449.3 1322.8L2450.8 1312L2447.8 1296.8L2453.8 1290.1L2459.8 1303.2L2464.3 1312L2467.3 1320.4L2473.4 1317.9L2479.4 1326.1L2480.9 1310.3L2491.4 1309.4L2492.9 1320.4L2491.4 1332.3L2485.4 1338.4L2479.4 1339.9L2476.4 1347.1L2473.4 1354.1L2465.8 1357.5L2459.8 1364.2L2455.3 1373.7L2453.8 1385.8L2459.8 1397.1L2467.3 1397.1L2473.4 1399.9L2482.4 1406.3L2490.5 1407.4L2491.4 1418.1L2495.9 1426.5L2500.5 1425.5L2501.1 1418.1L2498.9 1409.5L2506.5 1402.6L2508 1394.3L2503.5 1386.9L2505 1379.8L2503.5 1365.5L2515.5 1365.5L2524.5 1373.1L2529.1 1385.8L2533.6 1389.8L2541.1 1382.8L2544.1 1377.4L2550.1 1388.7L2554.6 1399.9L2560.7 1407.9L2565.2 1413.1L2570.3 1420.6L2568.2 1425.5L2557.7 1431.2L2545.6 1431.2L2536.6 1435L2529.1 1441.8L2539.6 1436.8L2544.7 1437.8L2541.1 1442.7L2543.2 1446.3L2545.6 1450.7L2554.6 1451.5L2557.7 1447.2L2557.7 1451.5L2547.1 1457.1L2539.6 1461.3L2539.6 1457.1L2544.1 1452.8L2536.6 1454.5L2534.2 1445.9L2530 1444.5L2526 1452.8L2523 1455L2513.4 1455L2508 1459.2L2500.5 1462.1L2500.5 1464.2L2489.9 1467.4L2488.4 1466.2L2489.9 1463.3L2489.9 1452.8L2483.9 1448.5L2473.4 1440.9L2468.8 1441.8L2451.7 1437.3L2367.4 1437.3L2363.5 1432.7L2354.4 1427.9L2352.9 1420.6L2346.9 1411.5L2346.9 1402.6L2341.5 1398.8L2336.4 1388.7L2330.4 1381.6L2324.3 1385.8L2319.8 1379.2L2313.8 1378zM2366.5 1440L2360.5 1437.8L2352 1429.4L2355.9 1428.9L2362 1432.7zM2337.9 1413.1L2341.5 1413.1L2343.9 1421.6L2340 1419.1zM2559.8 1443.6L2563.7 1437.3L2566.7 1427.9L2571.2 1425L2569.7 1432.7L2577.2 1435.9L2579.6 1444.1L2575.7 1447.6L2569.7 1446.3zM2545.6 1360.9L2542.6 1368L2533.6 1364.2L2521.5 1354.1L2514 1350.7L2505 1351.4L2503.5 1343.5L2515.5 1343.5L2518.5 1328.4L2506.5 1322L2500.5 1309.4L2491.4 1307.6L2482.4 1305.9L2470.3 1298.6L2468.8 1284.2L2470.3 1271.8L2482.4 1271.8L2494.4 1276L2503.5 1281.2L2512.5 1287.2L2524.5 1295.8L2533.6 1305.9L2536.6 1316.2L2545.6 1326.1L2553.1 1333.9L2551.6 1341.4L2545.6 1347.1L2547.1 1354.1zM2380 1293.9L2384.5 1302.3L2398.1 1314.6L2413.1 1317.1L2425.2 1317.1L2432.7 1310.3L2429.7 1298.6L2422.2 1284.2L2413.1 1277L2398.1 1280.1L2383 1283.2zM2360.5 1289.1L2368 1297.7L2377 1293.9L2383 1284.2L2389.1 1276L2386 1266.3L2374 1263L2363.5 1270.7zM2476.4 1354.1L2485.4 1359.5L2494.4 1356.2L2495.9 1350.7L2486.9 1341.4L2479.4 1345zM2431.2 1293.9L2440.2 1295.8L2447.8 1286.2L2446.3 1271.8L2437.2 1268.5L2429.7 1279.1zM2450.8 1287.2L2458.3 1289.1L2465.8 1281.2L2467.3 1268.5L2452.3 1268.5zM2438.7 1316.2L2446.3 1319.6L2450.8 1316.2L2446.3 1307.6L2440.2 1309.4zM2497.4 1367.4L2499.6 1365.5L2498.9 1369.9zM2491.4 1417.1L2495 1418.1L2498 1420.6L2494.4 1420.1zM2545.6 1433.1L2552.2 1435.5L2550.7 1436.8L2544.7 1434.5zM2544.7 1446.7L2551.6 1448.5L2550.1 1450.7L2545.6 1448.9z" fill="#f5843f"/><path d="M2313.8 1311.1L2301.7 1307.6L2292.7 1304.1L2280.7 1300.5L2267.1 1295.8L2259.6 1300.5L2250.6 1305L2244.5 1316.2L2237 1321.2L2244.5 1327.6L2245.4 1331.6L2251.2 1333.1L2253.6 1338.4L2245.1 1339.1L2238.5 1337.6L2232.2 1342.8L2237 1350L2242.1 1351L2252.1 1351.4L2254.2 1348.6L2253.6 1357.5L2247.6 1360.9L2243 1360.9L2238.5 1369.9L2240 1376.8L2249.1 1379.8L2250.6 1385.8L2251.2 1388.1L2261.1 1386.9L2265.6 1387.5L2264.1 1394.3L2262.6 1398.2L2255.1 1402.6L2249.1 1406.3L2242.1 1410.5L2250.6 1408.4L2259.6 1404.2L2267.1 1397.7L2274.1 1390.4L2276.8 1385.8L2275.3 1382.8L2279.2 1374.9L2285.2 1372.5L2282.2 1379.8L2281.3 1384.6L2288.2 1381.6L2292.7 1376.8L2297.2 1374.9L2301.7 1378L2306.3 1379.8L2312.3 1380.4L2317.4 1382.2L2324.3 1388.1L2328.8 1391.5L2331.9 1398.2L2336.4 1405.3L2342.4 1408.9L2346.3 1407.9L2346.9 1402.6L2341.5 1398.8L2336.4 1388.7L2330.4 1381.6L2324.3 1385.8L2319.8 1379.2L2313.8 1378zM2272.2 1394.9L2277.1 1391.5L2280.1 1393.8L2276.2 1398.2zM2221.1 1358.2L2226.5 1356.2L2230.1 1359.5L2225 1360.9zM2234 1378.6L2239.1 1378L2239.1 1381L2234.6 1381zM2232.5 1416.6L2237 1413.6L2237.6 1415.6L2233.1 1418.1z" fill="#7c0025"/><path d="M2367.4 1437.3L2451.7 1437.3L2468.8 1441.8L2473.4 1440.9L2483.9 1448.5L2489.9 1452.8L2489.9 1463.3L2488.4 1466.2L2489.9 1467.4L2500.5 1464.2L2500.5 1462.1L2508 1459.2L2513.4 1455L2523 1455L2526 1452.8L2530 1444.5L2534.2 1445.9L2536.6 1454.5L2536.6 1456.7L2527.6 1460L2525.4 1464.6L2527.6 1468.2L2523 1469.8L2515.5 1473L2515.5 1477.4L2511 1481.2L2509.5 1486.9L2511 1493.3L2506.5 1496.2L2500.5 1500.6L2494.4 1507L2493.5 1512.2L2495.9 1519.1L2497.4 1524.2L2496.2 1528.6L2493.8 1528.6L2492 1525.2L2489 1519.1L2488.4 1515L2485.4 1512.2L2480.9 1512.9L2474.9 1511.2L2470.3 1511.2L2469.4 1515L2465.8 1515L2461.3 1513.6L2455.3 1513.6L2450.8 1516.4L2446.3 1519.8L2445.4 1525.9L2439.6 1524.2L2438.1 1520.5L2435.7 1516.4L2432.7 1512.9L2428.8 1514.7L2427.6 1515.7L2423.7 1513.3L2417.7 1505.9L2412.5 1505.9L2412.5 1507.7L2404.1 1507.7L2392.7 1503.4L2385.7 1503.4L2381.5 1498L2375.2 1495.9L2371.3 1488.4L2369.5 1483.9L2365.6 1477.4L2364.1 1473.8L2364.4 1467.4L2364.7 1459.2L2365 1449.8L2362.9 1440L2368 1440.9zM2256 1539.4L2258.7 1538.4L2258.4 1539.4zM2262 1540.7L2263.5 1540.4L2263.2 1541.3zM2266.5 1542.6L2268.6 1543L2267.4 1543.6zM2268.9 1544.9L2271.3 1546.2L2269.8 1548.7L2268.6 1546.8z" fill="#7c0025"/><path d="M2385.7 1503.4L2392.7 1503.4L2404.1 1507.7L2412.5 1507.7L2412.5 1505.9L2417.7 1505.9L2423.7 1513.3L2427.6 1515.7L2428.8 1514.7L2432.7 1512.9L2435.7 1516.4L2438.1 1520.5L2439.6 1524.2L2445.4 1525.9L2443.9 1532.5L2443.9 1538.1L2445.7 1543L2448.7 1548.1L2453.8 1551.3L2461.3 1550L2465.2 1547.8L2466.1 1542.3L2473.4 1540.4L2477 1541L2474.9 1547.1L2474 1551.3L2472.5 1550.3L2469.7 1552.5L2464.3 1552.5L2464.3 1554.4L2466.1 1557.9L2462.8 1557.9L2460.7 1562.6L2455.3 1557.6L2449.3 1559.1L2443.3 1557.6L2437.2 1555.1L2431.2 1551.9L2425.2 1548.7L2420.7 1544.2L2420.7 1540.7L2417.7 1534.8L2413.1 1529.2L2408.6 1523.5L2405.6 1519.5L2400.5 1515.7L2398.1 1508.8L2392.7 1505.9L2393.6 1512.2L2398.7 1519.1L2402.6 1525.9L2406.2 1531.9L2408.6 1535.2L2406.5 1535.8L2401.1 1529.9L2400.5 1525.9L2394.5 1521.8L2392.7 1519.8L2395.1 1517.4L2389.7 1511.2L2386.7 1505.9z" fill="#f7a14a"/><path d="M2469.7 1552.5L2472.5 1550.3L2472.8 1558.2L2479.4 1558.5L2485.4 1558.8L2487.8 1561.3L2486.3 1569.1L2486.9 1573.7L2489.9 1578.3L2494.4 1580.4L2498.9 1578L2505.3 1580.7L2503.8 1585.3L2502 1581.3L2497.4 1585L2495.9 1585.3L2492.9 1582.8L2488.4 1582.2L2483 1577.4L2480 1574L2474.9 1567.8L2474.3 1566.6L2467.3 1565L2460.7 1562.6L2462.8 1557.9L2466.1 1557.9L2464.3 1554.4L2464.3 1552.5zM2482.7 1539.4L2488.4 1535.8L2495.9 1535.5L2506.5 1540L2514.9 1544.9L2505 1545.8L2503.5 1543.6L2498.9 1540.4L2491.4 1537.8zM2514.3 1550L2519.1 1545.8L2527.6 1546.2L2532.4 1550L2526 1551.3L2522.4 1552.5zM2502.6 1550.6L2508.6 1551.3L2506.5 1552.5zM2536 1550.3L2540.5 1550.6L2539.6 1552.2L2536.3 1551.9zM2502.3 1523.9L2505.9 1524.2L2504.1 1522.9zM2503.5 1528.9L2504.7 1531.9L2502.6 1531.2z" fill="#f0f0f1"/><path d="M2523.6 1571.2L2522.7 1574L2526.9 1572.1L2527.6 1570L2532.1 1572.8L2533.6 1574.9L2539.6 1574.9L2544.1 1576.1L2551.6 1574.6L2552.2 1577.4L2555.2 1578.9L2557.7 1581L2557.7 1582.2L2554.6 1585.9L2554 1588.9L2555.6 1591.3L2554.6 1593.4L2549.2 1594.9L2545 1594.6L2545 1599.5L2547.4 1600.4L2541.1 1604.6L2536.9 1603.4L2536 1601.6L2535.7 1597.1L2534.2 1593.4L2535.1 1588.3L2529.4 1588.6L2526 1585.9L2520.3 1585L2520.3 1581.9L2518.5 1579.2L2520 1573.7z" fill="#f0f0f1"/><path d="M2557.7 1582.2L2560.7 1582.8L2566.1 1588.9L2572.7 1588.9L2575.7 1589.5L2575.1 1593.4L2574.2 1599.8L2569.7 1601L2566.7 1601.3L2561.3 1603.4L2558.3 1602.8L2557.7 1598.6L2558.3 1594.9L2555.6 1591.3L2554 1588.9L2554.6 1585.9z" fill="#f0f0f1"/><path d="M2575.7 1589.5L2579.3 1591.3L2582.6 1594.3L2579.9 1599.5L2574.2 1599.8L2575.1 1593.4z" fill="#f3773b"/><path d="M2501.1 1602.8L2505.6 1606.1L2511.6 1607.3L2511 1611.5L2504.1 1616L2502 1620.6L2498.9 1622.1L2496.2 1620.3L2496.5 1617.2L2497.7 1613.6L2494.7 1613.9L2495 1610L2497.4 1606.7L2497.4 1604.6z" fill="#f0f0f1"/><path d="M2496.2 1620.3L2498.9 1622.1L2502 1620.6L2504.1 1616L2511 1611.5L2511.6 1607.3L2513.1 1607.6L2518.8 1614.2L2525.4 1618.4L2527.6 1619.7L2519.1 1622.4L2517.9 1625.4L2515.8 1629.3L2518.8 1634.5L2520.9 1637.3L2525.7 1635.7L2525.7 1640.3L2528.8 1640.2L2531.5 1644.9L2530.6 1648.6L2530.6 1653.6L2528.8 1654.6L2529.1 1660.5L2526.3 1663.2L2523 1659.9L2512.5 1654.2L2508.6 1649.3L2505.9 1643.4L2502.9 1637.3L2499.9 1631.2L2497.7 1627.2L2493.8 1625.1L2493.5 1620.6z" fill="#f0f0f1"/><path d="M2528.8 1640.2L2531.8 1640.3L2537.8 1637L2541.7 1636.6L2541.7 1642.8L2544.4 1644.9L2551.6 1646.5L2557.1 1648.3L2557.4 1656.4L2562.8 1659.9L2564.9 1662.1L2564.6 1665.3L2563.4 1668.8L2560.4 1666.2L2552.5 1667.2L2550.7 1670.1L2549.8 1675.6L2544.7 1677.5L2542 1675.3L2538.7 1674.3L2536 1677.5L2533.9 1677.5L2533 1673.3L2532.1 1666.9L2530.6 1665.3L2529.1 1660.5L2528.8 1654.6L2530.6 1653.6L2530.6 1648.6L2531.5 1644.9z" fill="#f0f0f1"/><path d="M2549.8 1675.6L2550.7 1670.1L2552.5 1667.2L2560.4 1666.2L2563.4 1668.8L2564 1670.7L2564.3 1675.3L2570.6 1675.9L2571.5 1681.1L2574.8 1681.5L2573.9 1686.8L2573.3 1690.5L2570 1692.8L2561.9 1692.2L2564.9 1686.8L2561.3 1684.1L2554.6 1680.8z" fill="#f0f0f1"/><path d="M2564.9 1702.5L2571.2 1704.9L2577.2 1710.6L2577.5 1714.9L2573 1719.2L2568.2 1719.2L2562.5 1716L2563.1 1710.6z" fill="#f0f0f1"/><path d="M2526.3 1663.2L2529.1 1660.5L2530.6 1665.3L2532.1 1666.9L2533 1673.3L2533.9 1677.5L2536 1677.5L2536.6 1678.2L2532.4 1683.1L2531.8 1691.5L2528.5 1696.6L2527.6 1701.8L2526 1708.8L2527.6 1714.2L2526.6 1727.1L2517 1727.1L2520 1719.6L2522.7 1712.4L2523 1701.8L2523.6 1696.6L2525.1 1688.1L2526 1679.8L2526.9 1671.7z" fill="#f7a54c"/><path d="M2536 1677.5L2538.7 1674.3L2542 1675.3L2544.7 1677.5L2549.8 1675.6L2554.6 1680.8L2561.3 1684.1L2564.9 1686.8L2561.9 1692.2L2570 1692.8L2573.3 1690.5L2573.9 1686.8L2576.6 1687.4L2576.3 1691.8L2570 1696.2L2564.9 1702.5L2563.1 1710.6L2562.5 1716L2565.8 1721.5L2566.7 1727.1L2526.6 1727.1L2527.6 1714.2L2526 1708.8L2527.6 1701.8L2528.5 1696.6L2531.8 1691.5L2532.4 1683.1L2536.6 1678.2z" fill="#f7a54c"/><path d="M2505.3 1580.7L2507.1 1581L2510.7 1578.3L2511.6 1574.3L2514.9 1573.1L2520.9 1570.9L2523.6 1569.4L2523.6 1571.2L2520 1573.7L2518.5 1579.2L2520.3 1581.9L2520.3 1585L2526 1585.9L2529.4 1588.6L2535.1 1588.3L2534.2 1593.4L2535.7 1597.1L2536 1601.6L2536.9 1603.4L2528.2 1601.9L2529.4 1604L2527.6 1607.6L2529.4 1610.6L2527.6 1619.7L2525.4 1618.4L2518.8 1614.2L2513.1 1607.6L2511.6 1607.3L2505.6 1606.1L2501.1 1602.8L2502.3 1599.2L2505 1594.9L2505 1590.1L2505.6 1586.5L2503.8 1585.3z" fill="#f8a94f"/><path d="M2582.6 1594.3L2587.8 1601.6L2587.8 1607L2592.3 1609.1L2596.8 1609.1L2604.3 1613.6L2613.4 1615.7L2620.9 1617.5L2626.3 1621.5L2632 1623L2633.5 1628.7L2632.3 1634.2L2626.9 1640.3L2622.4 1646.5L2620.9 1654.2L2620.3 1661.2L2617.9 1667.8L2614.9 1674.3L2611.9 1677.9L2604.3 1678.8L2598.9 1681.5L2592.3 1687.4L2592 1693.2L2590.8 1697.6L2586.3 1703.5L2581.1 1709.1L2577.5 1714.9L2577.2 1710.6L2571.2 1704.9L2564.9 1702.5L2570 1696.2L2576.3 1691.8L2576.6 1687.4L2573.9 1686.8L2574.8 1681.5L2571.5 1681.1L2570.6 1675.9L2564.3 1675.3L2564 1670.7L2563.4 1668.8L2564.6 1665.3L2564.9 1662.1L2562.8 1659.9L2557.4 1656.4L2557.1 1648.3L2551.6 1646.5L2544.4 1644.9L2541.7 1642.8L2541.7 1636.6L2537.8 1637L2531.8 1640.3L2528.8 1640.2L2525.7 1640.3L2525.7 1635.7L2520.9 1637.3L2518.8 1634.5L2515.8 1629.3L2517.9 1625.4L2519.1 1622.4L2527.6 1619.7L2529.4 1610.6L2527.6 1607.6L2529.4 1604L2528.2 1601.9L2536.9 1603.4L2541.1 1604.6L2547.4 1600.4L2545 1599.5L2545 1594.6L2549.2 1594.9L2554.6 1593.4L2555.6 1591.3L2558.3 1594.9L2557.7 1598.6L2558.3 1602.8L2561.3 1603.4L2566.7 1601.3L2569.7 1601L2574.2 1599.8L2579.9 1599.5z" fill="#f4793c"/><path d="M2720.5 1491.4L2722.3 1491.1L2729.6 1493.3L2731.7 1494L2738.3 1491.1L2747.3 1487.3L2759.4 1486.9L2764.2 1487.3L2767.8 1485.8L2771.7 1486.6L2770.2 1491.4L2771.4 1493.6L2768.7 1496.9L2768.7 1498.4L2771.7 1500.9L2778 1502L2784.1 1504.2L2785.6 1507.7L2791 1509.1L2795.5 1511.2L2798.5 1508.8L2798.8 1504.9L2803 1502L2807.5 1503.1L2813.6 1506.6L2820.5 1507.7L2825.6 1509.1L2831.3 1507L2835.5 1507.7L2841.3 1507.7L2843.4 1514L2841.3 1520.2L2839.2 1518.1L2836.4 1512.2L2836.4 1515.7L2840.1 1521.8L2845.2 1532.9L2849.4 1539.1L2850.3 1546.8L2854.2 1551.9L2857.2 1559.4L2862.3 1562.9L2868.1 1568.4L2868.1 1571.8L2873.8 1575.5L2879.8 1573.4L2885.8 1572.8L2892.7 1571.2L2893 1575.5L2888.2 1584.4L2882.8 1593.4L2876.8 1599.8L2874.7 1601L2866.3 1608.2L2863.2 1612.1L2859 1616.6L2857.5 1619.4L2856.3 1621.2L2855.1 1625.7L2856.6 1627.5L2857.2 1632.7L2859.9 1638.8L2860.5 1644.9L2861.1 1652.1L2857.2 1657.4L2849.7 1661.5L2843.4 1667.8L2845.2 1674.9L2845.2 1680.8L2837.7 1686.1L2836.4 1688.1L2837.4 1691.1L2836.1 1696.6L2831.6 1701.4L2825.6 1708.8L2822.3 1712.4L2815.7 1716L2804.5 1716.7L2798.5 1718.9L2793.7 1716.7L2793.4 1711.3L2790.4 1703.5L2788 1696.9L2784.1 1690.5L2782 1677.9L2778.6 1670.7L2773.8 1659.9L2774.4 1653.3L2778.9 1644.6L2779.8 1639.4L2778 1633.6L2775.3 1625.4L2775 1622.1L2771.7 1618.8L2767.2 1614.2L2764.8 1609.1L2766.6 1605.8L2767.8 1600.1L2767.8 1597.7L2766.9 1594.9L2763.9 1593.4L2759.4 1593.7L2756.4 1594L2751.8 1588L2748.5 1587.7L2743.1 1588.3L2741.9 1588.6L2736.8 1590.7L2732.3 1592.5L2729 1591.6L2723.2 1591.3L2715.7 1593.7L2710.6 1591.3L2705.8 1588L2700.7 1584.7L2698.3 1581.3L2697.1 1578.3L2693.1 1574L2691.3 1570.9L2687.7 1569.4L2688 1566L2685.6 1562.2L2688.6 1558.2L2690.1 1551.9L2689.2 1548.1L2687 1543L2687.3 1541.3L2690.1 1533.5L2694.9 1524.9L2698.6 1520.2L2704.9 1516.4L2708.2 1514L2709.1 1510.9L2708.8 1507L2715.4 1499.5L2717.8 1498L2719.6 1493.6zM2886.7 1643.4L2890 1654.2L2887.3 1660.5L2884.3 1670.1L2879.8 1684.8L2874.4 1686.4L2869.9 1679.8L2868.7 1674.3L2872 1667.8L2870.8 1660.5L2871.4 1656.7L2877.7 1654.9L2882.5 1649.6z" fill="#f0f0f1"/><path d="M2720.5 1491.4L2722.3 1491.1L2729.6 1493.3L2731.7 1494L2732.9 1496.2L2733.2 1500.6L2734.4 1504.5L2729.6 1505.9L2727.2 1509.1L2723.2 1512.2L2720.2 1513.6L2712.1 1516.7L2712.2 1521.5L2712.2 1525.9L2702.2 1525.9L2702.2 1534.3L2699.2 1535.8L2698.9 1541.3L2687.3 1541.3L2690.1 1533.5L2694.9 1524.9L2698.6 1520.2L2704.9 1516.4L2708.2 1514L2709.1 1510.9L2708.8 1507L2715.4 1499.5L2717.8 1498L2719.6 1493.6z" fill="#f8a546"/><path d="M2764.2 1487.3L2767.8 1485.8L2771.7 1486.6L2770.2 1491.4L2771.4 1493.6L2768.7 1496.9L2768.7 1498.4L2771.7 1500.9L2772.9 1501.3L2772.9 1505.2L2769.3 1506.3L2769 1511.2L2766.9 1511.5L2765.7 1504.9L2760.9 1498.4L2763 1495.5L2763.3 1491.8z" fill="#f9b25a"/><path d="M2813.6 1506.6L2820.5 1507.7L2825.6 1509.1L2831.3 1507L2835.5 1507.7L2841.3 1507.7L2843.4 1514L2841.3 1520.2L2839.2 1518.1L2836.4 1512.2L2836.4 1515.7L2840.1 1521.8L2845.2 1532.9L2849.4 1539.1L2813.6 1539.1z" fill="#f7a04b"/><path d="M2788 1696.9L2790.4 1703.5L2793.4 1711.3L2793.7 1716.7L2798.5 1718.9L2804.5 1716.7L2815.7 1716L2822.3 1712.4L2825.6 1708.8L2831.6 1701.4L2836.1 1696.6L2837.4 1691.1L2834.6 1690.8L2834.3 1687.8L2834.6 1683.1L2832.5 1676.2L2826.8 1675.6L2822.6 1677.9L2819.6 1680.2L2815.1 1687.1L2807.5 1685.8L2804.5 1690.1L2800.6 1690.8L2798.5 1684.1L2798.5 1696.2L2795.5 1698L2791 1697.3z" fill="#f5963f"/><path d="M2819.6 1700.4L2823.2 1697.3L2826.8 1700L2826.2 1702.8L2822.6 1703.8zM2831.6 1688.1L2834.6 1688.1L2834.6 1692.2L2831.6 1692.2z" fill="#f0f0f1"/><path d="M3001.1 1436.8L2994.8 1434.5L2988.2 1427.9L2979.2 1428.9L2972.5 1416.6L2968.6 1412.1L2961.1 1415.1L2959.3 1413.1L2952.7 1412.6L2951.8 1406.8L2946 1406.3L2935.5 1410L2923.5 1413.6L2922 1418.6L2919.5 1423.1L2923.5 1427L2918.9 1428.9L2914.7 1427.9L2906 1429.8L2896.4 1425.5L2891.2 1425L2884.6 1429.8L2879.8 1432.7L2879.2 1440L2882.8 1442.7L2885.8 1448.9L2892.4 1446.3L2897.9 1446.7L2898.5 1453.7L2891.8 1457.1L2889.4 1457.5L2891.8 1464.2L2896.4 1465L2896.4 1468.2L2900.9 1466.2L2905.4 1470.2L2906.9 1470.2L2906.9 1455L2914.7 1452.4L2922 1457.5L2925 1461.3L2933.7 1460.4L2937 1467.4L2938.5 1467.8L2943 1471.4L2946 1469.8L2950.6 1467L2952.1 1466.2L2959.6 1463.3L2965.6 1463.7L2976.1 1464.2L2979.8 1466.6L2981.6 1462.5L2980.4 1456.2L2986.7 1454.1L2988.2 1445.4L2995.7 1445.9L2996.3 1440z" fill="#f0f0f1"/><path d="M2896.4 1468.2L2900.9 1466.2L2905.4 1470.2L2906.9 1470.2L2906.9 1455L2914.7 1452.4L2922 1457.5L2925 1461.3L2933.7 1460.4L2937 1467.4L2938.5 1467.8L2943 1471.4L2946 1469.8L2950.6 1467L2952.1 1466.2L2959.6 1463.3L2965.6 1463.7L2976.1 1464.2L2979.8 1466.6L2973.1 1471.4L2968.6 1473.8L2961.1 1475.4L2960.2 1477.7L2963.5 1481.2L2964.1 1485.4L2959.6 1485.8L2953.6 1487.7L2953.6 1483.5L2950.6 1482L2947.5 1486.2L2943 1486.9L2938.5 1485.4L2933.4 1486.6L2926.5 1493.3L2922.6 1492.2L2922.6 1488.4L2917.4 1485.4L2911.4 1482.4L2906.9 1482.8L2903.3 1485.4L2900.6 1485.6L2900.3 1479.3L2897.9 1475.4L2897.3 1471.4L2902.4 1469.4z" fill="#f0f0f1"/><path d="M2922.6 1492.2L2926.5 1493.3L2933.4 1486.6L2938.5 1485.4L2943 1486.9L2947.5 1486.2L2950.6 1482L2953.6 1483.5L2953.6 1487.7L2959.6 1485.8L2964.1 1485.4L2962.6 1486.9L2953.6 1490.7L2952.1 1496.2L2949 1499.8L2946.9 1505.6L2938.2 1512.6L2926.5 1514.3L2921.7 1512.9L2924.4 1508.8L2920.7 1499.8z" fill="#f0f0f1"/><path d="M2921.7 1512.9L2926.5 1514.3L2938.2 1512.6L2946.9 1505.6L2949 1499.8L2952.1 1496.2L2953.6 1490.7L2962.6 1486.9L2964.1 1485.4L2972.5 1492.5L2967.1 1496.2L2962.6 1502.4L2962.6 1508.8L2960.8 1512.2L2952.1 1519.5L2949 1524.2L2952.1 1531.2L2943.6 1533.5L2940 1529.9L2938.5 1527.9L2931 1528.2L2923.8 1528.6L2928 1521.8L2927.4 1518.4z" fill="#f0f0f1"/><path d="M3002.6 1436.4L3009.3 1432.7L3015.3 1428.9L3022.8 1432.7L3034 1430.3L3032.7 1427.9L3035.8 1422.6L3046 1426.5L3046.9 1430.3L3055.9 1430.8L3061.9 1433.1L3072.5 1435.9L3081.5 1431.7L3089.6 1433.6L3086.3 1442.3L3091.8 1443.2L3095.1 1442.3L3099.3 1447.6L3091.8 1448.5L3089.3 1449.4L3086.6 1452.8L3081.5 1455L3074.9 1460.4L3068 1465.4L3054.4 1469L3042.4 1465L3028.8 1464.6L3025.8 1458.3L3018.3 1455L3011.7 1453.7L3010.8 1446.3L3003.2 1439.6z" fill="#f0f0f1"/><path d="M2831 1309.4L2837.7 1312.8L2846.7 1314.6L2858.7 1326.1L2862.3 1333.9L2854.2 1339.1L2843.7 1335.4L2836.1 1332.3L2842.2 1343.5L2843.1 1350.7L2849.7 1354.8L2851.2 1351.4L2858.7 1350L2858.7 1341.4L2864.7 1336.1L2870.8 1338.4L2871.4 1324.5L2868.7 1319.6L2876.8 1322.8L2876.8 1333.1L2885.8 1325.3L2897.9 1317.1L2902.4 1322.8L2912.9 1317.1L2920.4 1309.4L2918.9 1322L2931 1313.7L2940 1316.2L2939.4 1319.6L2943 1314.6L2939.4 1300.5L2944.5 1280.1L2953.6 1279.1L2957.5 1289.1L2955.1 1307.6L2956.6 1320.4L2959.6 1332.3L2955.1 1337.6L2961.1 1328.4L2962.6 1316.2L2959.6 1298.6L2964.1 1283.2L2973.1 1287.2L2980.7 1280.1L2985.2 1298.6L2989.7 1303.2L2988.2 1289.1L2982.2 1273.9L2997.2 1268.5L3000.2 1257.2L3009.3 1251.3L3024.3 1244L3039.4 1238.9L3052.3 1222.7L3058.9 1232.3L3063.5 1236.3L3075.5 1245.2L3080 1259.6L3069.5 1268.5L3078.5 1271.8L3093.6 1277L3108.6 1277L3120.7 1281.2L3128.2 1296.8L3132.7 1299.5L3138.7 1293L3150.8 1293.9L3159.8 1283.2L3162.8 1282.2L3177.9 1286.2L3189.9 1293.9L3197.4 1299.5L3211 1297.7L3220 1305.9L3223 1312L3232.1 1310.3L3244.1 1307.6L3251.6 1306.8L3253.1 1316.2L3265.2 1309.4L3280.2 1316.2L3292.3 1326.1L3304.3 1332.3L3311.2 1339.1L3307.3 1343.5L3301.3 1351.4L3293.8 1348.6L3286.2 1343.5L3281.7 1338.4L3277.2 1348.6L3272.7 1349.3L3278.1 1362.2L3268.2 1367.4L3256.1 1374.3L3251 1380.4L3238.1 1379.8L3232.1 1380.4L3229.9 1388.7L3227.5 1392.7L3229.6 1401.5L3226 1407.9L3220 1417.1L3215.5 1419.1L3210.1 1427.9L3206.8 1410.5L3210.4 1394.3L3215.5 1389.8L3224.5 1378L3229 1370.6L3232.1 1364.2L3221.5 1369.3L3219.4 1373.7L3209.5 1370.6L3205 1382.8L3195.9 1385.8L3192.9 1382.8L3185.4 1383.4L3176.4 1383.4L3167.3 1384L3159.8 1392.7L3153.8 1399.9L3146.2 1408.9L3152.3 1413.1L3155.3 1414.1L3164 1416.6L3161.3 1425.5L3161.9 1432.7L3160.7 1439.6L3155.3 1446.3L3149.3 1455L3145.3 1460.4L3138.7 1464.2L3135.7 1462.9L3131.8 1466.2L3131.5 1465L3133.3 1461.3L3132.7 1455.4L3139 1454.5L3143.8 1440.5L3132.7 1443.2L3131.2 1437.8L3122.2 1433.6L3117.6 1420.6L3110.1 1415.6L3102 1416.6L3099.6 1424.5L3097.5 1432.2L3093 1435L3089.6 1433.6L3081.5 1431.7L3072.5 1435.9L3061.9 1433.1L3055.9 1430.8L3046.9 1430.3L3046 1426.5L3035.8 1422.6L3032.7 1427.9L3034 1430.3L3022.8 1432.7L3015.3 1428.9L3009.3 1432.7L3002.6 1436.4L3001.1 1436.8L2994.8 1434.5L2988.2 1427.9L2979.2 1428.9L2972.5 1416.6L2968.6 1412.1L2961.1 1415.1L2959.3 1413.1L2952.7 1412.6L2951.8 1406.8L2946 1406.3L2935.5 1410L2923.5 1413.6L2922 1418.6L2919.5 1423.1L2923.5 1427L2918.9 1428.9L2914.7 1427.9L2906 1429.8L2896.4 1425.5L2891.2 1425L2884.6 1429.8L2879.8 1432.7L2879.2 1440L2882.8 1442.7L2885.8 1448.9L2881.3 1452.4L2879.8 1457.9L2881.3 1463.3L2884.3 1467.8L2878.3 1467.8L2873.8 1465L2869.3 1464.2L2863.2 1462.1L2858.7 1461.7L2853.3 1457.5L2849.7 1455L2851.2 1450.7L2853.3 1449.8L2853.3 1445.9L2858.1 1442.7L2858.7 1435L2853.3 1433.1L2846.7 1430.8L2844.9 1427.9L2841.3 1426.5L2841.3 1421.6L2834 1422.6L2833.1 1417.1L2836.7 1415.6L2831 1408.9L2831.6 1405.3L2823.2 1402L2821.7 1395.5L2820.8 1394.3L2821.1 1388.7L2822.9 1383.4L2829.2 1380.4L2822.6 1376.8L2828.6 1368.7L2833.1 1361.5L2830.1 1354.1L2827.7 1348.6L2828.9 1342.1L2825.6 1333.1L2828.6 1326.9L2824.1 1322.8L2825.3 1315.8zM2797.3 1410.8L2798.5 1408.2L2802.1 1406.8L2806.9 1408.4L2806.9 1411zM3165.8 1411.5L3168.8 1418.1L3169.7 1425.5L3173.3 1437.3L3168.8 1441.8L3170.3 1448.1L3165.8 1450.7L3165.5 1444.1L3166.4 1435L3164.9 1425.5zM2893.4 1291.1L2897.9 1300.5L2903.9 1302.3L2911.4 1301.4L2909.9 1289.1L2905.4 1276L2906.9 1263L2900.9 1273.9L2896.4 1284.2zM3276.6 1298.6L3280.2 1293.9L3287.8 1296.8L3283.2 1300.5zM2884.3 1313.7L2888.8 1314.6L2887.3 1318.7zM3150.8 1251.3L3159.8 1247.7L3168.8 1257.2L3156.8 1260.7zM3177.9 1253.7L3189.9 1254.9L3183.9 1259.6zM3207.4 1431.2L3208.6 1429.4L3206.5 1428.9z" fill="#f5964a"/><path d="M2801.8 1406.3L2801.5 1402L2801.5 1397.1L2803.3 1393.8L2806.3 1393.8L2808.1 1397.1L2810.9 1396.6L2811.8 1389.8L2809.1 1387.5L2808.8 1384.6L2813 1382.8L2816.6 1382.2L2822.9 1383.4L2821.1 1388.7L2820.8 1394.3L2821.7 1395.5L2823.2 1402L2831.6 1405.3L2831 1408.9L2836.7 1415.6L2833.1 1417.1L2834 1422.6L2830.1 1426.5L2821.1 1425.5L2813.6 1423.6L2809.4 1425.5L2808.1 1422.1L2810.3 1419.6L2809.1 1413.6L2806.9 1411L2806.9 1408.4L2802.1 1406.8zM2804.5 1389.8L2807.5 1388.1L2808.4 1389.8L2805.1 1391.5z" fill="#f0f0f1"/><path d="M2779.8 1452.4L2779.5 1448.5L2782.3 1448.9L2787.1 1446.7L2788 1444.1L2789.8 1441.8L2789.2 1439.1L2792.5 1437.3L2794.9 1435L2797 1435L2801.5 1435.5L2806 1436.8L2805.1 1440L2807.2 1441.8L2804.5 1444.1L2802.1 1448.9L2799.4 1450.2L2802.7 1455.8L2806 1456.2L2806.6 1458.3L2806 1462.5L2805.7 1466.2L2807.2 1470.2L2801.5 1472.2L2798.5 1476.6L2796.7 1473.4L2796.7 1467.8L2794 1465.4L2791 1463.3L2786.5 1461.3L2784.1 1458.3L2782 1453.7L2779.2 1454.5z" fill="#f0f0f1"/><path d="M2798.5 1476.6L2801.5 1472.2L2807.2 1470.2L2812.1 1469.4L2814.5 1470.6L2817.5 1468.6L2816.6 1472.6L2811.8 1471.8L2810.6 1475.4L2808.8 1474.2L2807.2 1473L2806.3 1475.4L2808.4 1478.5L2807.2 1479.7L2810.6 1482.4L2810.6 1484.3L2807.5 1483.5L2808.1 1485.8L2807.8 1488.8L2806 1489.2L2803.6 1487.7L2801.8 1483.5L2802.4 1482L2800.9 1479.7zM2809.1 1493.3L2812.1 1492.2L2817.5 1493.6L2813.6 1494.8L2809.1 1493.6z" fill="#f0f0f1"/><path d="M2823.2 1452.8L2828.3 1448.5L2826.2 1444.1L2825.6 1441.8L2821.1 1439.6L2818.4 1440.5L2821.1 1444.1L2822.9 1448.5z" fill="#f0f0f1"/><path d="M2711.5 1467.8L2713.6 1467.8L2718.4 1467.6L2719.6 1469L2717.8 1471.4L2717.5 1473.4L2716.3 1477.4L2717.2 1482.4L2715.7 1484.7L2716 1486.2L2711.5 1486.9L2711.8 1481.6L2709.7 1480.5L2711.2 1475.4L2712.1 1471.4z" fill="#f0f0f1"/><path d="M2835.5 1494.4L2837.7 1493.3L2842.2 1492.2L2840.7 1494.4L2837.7 1495.9z" fill="#f0f0f1"/><path d="M2858.7 1461.7L2863.2 1462.1L2869.3 1464.2L2873.8 1465L2878.3 1467.8L2884.3 1467.8L2889.7 1473.8L2885.8 1478.5L2885.5 1481.6L2882.5 1476.6L2878.3 1479.7L2873.2 1476.6L2869.9 1475L2869.3 1471L2867.2 1469.4L2863.2 1469.4L2863.8 1466.6z" fill="#f0f0f1"/><path d="M2873.2 1486.2L2875 1490.7L2877.7 1493.3L2875 1498L2876.8 1501.6L2882.5 1505.9L2881.9 1508.8L2884.3 1512.2L2884 1517.4L2878.3 1515.4L2872.9 1515L2864.7 1508L2859.9 1505.6L2855.7 1504.5L2855.1 1500.2L2861.7 1496.6L2862.3 1492.2L2866 1486.6z" fill="#f0f0f1"/><path d="M2847.3 1491.4L2848.8 1489.9L2849.7 1488.1L2855.1 1488.1L2861.1 1486.6L2866 1486.6L2862.3 1492.2L2861.7 1496.6L2855.1 1500.2L2855.7 1504.5L2849.7 1507L2851.2 1512.2L2846.7 1515L2843.7 1514L2841.3 1507.7L2843.4 1503.4L2844 1501.3L2846.4 1495.9L2846.1 1492.5z" fill="#f0f0f1"/><path d="M2867.2 1556.9L2869 1553.5L2874.4 1553.8L2878 1554.4L2883.4 1551.3L2885.8 1550L2894.9 1548.7L2903.9 1545.5L2905.7 1539.1L2904.5 1536.8L2896.7 1536.1L2893.7 1531.9L2891.2 1529.9L2892.4 1525.6L2893.7 1529.2L2896.4 1531.9L2902.1 1530.9L2907.2 1525.9L2908.1 1524.9L2908.1 1529.6L2910.5 1532.9L2914.7 1533.8L2918.3 1537.4L2915.3 1543.9L2912.3 1548.7L2904.8 1553.2L2900.9 1555.1L2895.5 1558.2L2886.1 1562.9L2873.8 1568.1L2869.3 1568.4L2867.8 1562.9z" fill="#f0f0f1"/><path d="M2759.4 1391.5L2754.9 1386.9L2753.4 1379.8L2753.4 1370.6L2757.9 1363.5L2763.9 1357.5L2769.9 1350.7L2774.4 1343.5L2777.4 1332.3L2783.5 1322L2791 1312L2798.5 1306.8L2807.5 1300.5L2816 1297.7L2822.6 1298.6L2831.6 1305L2825.6 1310.3L2831 1309.4L2825.3 1315.8L2819.6 1308.5L2816 1316.2L2809.7 1318.7L2801.5 1314.6L2800 1315.8L2798.5 1321.2L2792.5 1320.4L2788 1326.1L2785 1338.4L2782 1345L2779.5 1354.1L2775 1357.5L2775 1370.6L2776.8 1373.7L2775.3 1379.8L2772.9 1385.8L2772 1385.8L2769.9 1384L2766.9 1387.5L2762.4 1391z" fill="#f59e4c"/><path d="M2772 1385.8L2772.9 1385.8L2775.3 1379.8L2776.8 1373.7L2775 1370.6L2775 1357.5L2779.5 1354.1L2782 1345L2785 1338.4L2788 1326.1L2792.5 1320.4L2798.5 1321.2L2800 1315.8L2804.5 1321.2L2809.1 1325.3L2809.4 1330.8L2810.6 1339.9L2810.9 1341.4L2805.4 1342.1L2803 1350.7L2800 1356.2L2794 1362.2L2790.4 1367.4L2790.1 1374.9L2794.9 1379.8L2794 1384L2788.9 1388.1L2788.6 1394.3L2786.5 1401.5L2781.4 1405.3L2777.1 1405.8L2776.5 1401.5L2774.1 1393.8zM2793.1 1397.1L2795.5 1392.1L2794.9 1395.5z" fill="#f5994a"/><path d="M2800 1315.8L2801.5 1314.6L2809.7 1318.7L2816 1316.2L2819.6 1308.5L2822 1307.6L2825.3 1315.8L2824.1 1322.8L2828.6 1326.9L2825.6 1333.1L2828.9 1342.1L2827.7 1348.6L2830.1 1354.1L2833.1 1361.5L2828.6 1368.7L2822.6 1376.8L2816.6 1377.4L2812.1 1379.8L2807.5 1380.4L2803 1376.2L2802.7 1368.7L2802.1 1362.2L2806 1356.2L2812.1 1348.6L2814.5 1345.7L2810.9 1341.4L2810.6 1339.9L2809.4 1330.8L2809.1 1325.3L2804.5 1321.2z" fill="#f7ab54"/><path d="M2764.2 1408.4L2762.7 1402.6L2763 1397.1L2769.9 1393.2L2769.3 1399.9L2770.8 1402.6L2767.8 1406.3L2766.9 1408.9zM2771.4 1404.2L2775.9 1402.6L2775.9 1406.8L2772 1406.8zM2767.8 1405.3L2770.8 1405.3L2770.5 1407.9L2768.4 1407.4z" fill="#f6a550"/><path d="M2719.3 1412.8L2720.2 1416.6L2719.6 1422.1L2714.2 1424.1L2708.8 1425.5L2707.3 1422.1L2709.7 1417.1L2708.2 1412.1L2712.7 1410.5L2713.3 1407.4L2716.3 1406.3L2716.3 1407.4L2714.2 1410.5L2715.7 1412.1z" fill="#f6a350"/><path d="M2721.1 1432.7L2727.8 1431.2L2735.3 1429.4L2742.5 1427L2740.7 1425.5L2743.4 1419.6L2738.9 1418.1L2738 1413.1L2733.8 1407.9L2732.3 1403.7L2728.7 1402.6L2731.7 1398.2L2732.9 1393.8L2726.3 1393.2L2728.7 1388.1L2723.2 1388.1L2720.8 1394.3L2719.6 1399.9L2721.7 1405.3L2723.8 1407.9L2723.5 1409.5L2727.8 1408.4L2729.3 1413.1L2729 1416.6L2724.8 1416.6L2725.7 1420.6L2722.6 1424.1L2727.8 1425.5L2729.3 1427L2724.8 1427.9zM2714.2 1410.5L2716.3 1407.4L2720.2 1406.8L2721.7 1410.5L2719.3 1412.8L2715.7 1412.1zM2716.3 1392.7L2719.6 1389.2L2718.4 1393.8z" fill="#f3612f"/><path d="M2745.8 1427.4L2748.5 1426L2750.3 1423.1L2752.5 1418.1L2756.4 1416.1L2760 1416.6L2759.7 1421.6L2758.8 1423.6L2756.4 1424.1L2756.4 1428.9L2756.7 1432.2L2757.6 1435L2755.8 1435L2752.8 1432.7L2750.9 1432.7z" fill="#f59646"/><path d="M2732.9 1461.7L2734.7 1456.7L2735 1451.5L2731.7 1446.3L2724.8 1442.3L2724.1 1440L2729.3 1438.2L2733.5 1439.1L2732.9 1434.1L2735.3 1435.5L2738.9 1434.5L2743.1 1431.7L2743.1 1428.4L2745.8 1427.4L2750.9 1432.7L2752.8 1432.7L2755.8 1435L2757.6 1435L2763 1437.3L2761.2 1443.6L2759.1 1444.5L2756.7 1449.4L2758.8 1451.1L2759.4 1454.1L2758.5 1457.5L2760.9 1460L2757.9 1462.9L2753.4 1462.1L2750.3 1461.3L2747.3 1465.4L2743.7 1465.8L2740.4 1464.2L2736.2 1463.7zM2764.2 1465.8L2766.6 1463.3L2766.9 1467.4L2766 1469.8L2764.2 1467.4z" fill="#f36a35"/><path d="M2732.9 1461.7L2736.2 1463.7L2740.4 1464.2L2743.7 1465.8L2747.9 1465.8L2747.9 1468.2L2744.9 1470.2L2740.7 1472.2L2737.7 1477.4L2738.9 1480.1L2736.2 1484.7L2732 1488.1L2725.1 1488.1L2722 1490.3L2719.3 1488.8L2719 1487.3L2716 1486.2L2715.7 1484.7L2717.2 1482.4L2716.3 1477.4L2717.5 1473.4L2717.8 1471.4L2719.6 1469L2718.4 1467.6L2713.6 1467.8L2711.5 1467.8L2711.5 1465.4L2710.3 1463.3L2714.2 1460.4L2720.8 1460.9L2726.9 1461.3zM2745.5 1477L2748.5 1476.2L2747.6 1478.1z" fill="#f49545"/><path d="M2756.7 1449.4L2759.1 1444.5L2761.2 1443.6L2764.2 1443.2L2767.2 1444.1L2769.6 1446.7L2768.7 1449.4L2765.4 1451.1L2763.6 1449.4L2759.4 1451.1L2758.8 1451.1z" fill="#f6a54e"/><path d="M2767.2 1444.1L2769.9 1444.1L2777.4 1444.1L2777.4 1439.6L2779.8 1438.2L2783.5 1437.3L2789.2 1439.1L2789.8 1441.8L2788 1444.1L2787.1 1446.7L2782.3 1448.9L2775.6 1447.6L2775 1446.3L2769.6 1446.7z" fill="#f8ad54"/><path d="M2774.7 1431.2L2781.4 1427.9L2783.5 1427.9L2787.1 1429.8L2789.2 1430.8L2791.3 1431.2L2794.9 1435L2792.5 1437.3L2789.2 1439.1L2783.5 1437.3L2779.8 1438.2L2775.3 1431.2z" fill="#f8b058"/><path d="M2760 1416.6L2763.9 1414.6L2765.1 1413.1L2764.2 1408.4L2766.9 1408.9L2768.4 1411L2771.4 1413.1L2775.9 1411L2778.9 1410.5L2781.1 1413.6L2781.7 1417.1L2780.8 1419.1L2782.6 1423.1L2783.5 1427.9L2781.4 1427.9L2775.3 1431.2L2774.7 1431.2L2779.8 1438.2L2777.4 1439.6L2777.4 1444.1L2769.9 1444.1L2767.2 1444.1L2764.2 1443.2L2761.2 1443.6L2763 1437.3L2757.6 1435L2756.7 1432.2L2756.4 1428.9L2756.4 1424.1L2758.8 1423.6L2759.7 1421.6z" fill="#f6542d"/><path d="M2760.9 1460L2758.5 1457.5L2759.4 1454.1L2758.8 1451.1L2759.4 1451.1L2763.6 1449.4L2765.4 1451.1L2768.7 1449.4L2769.6 1446.7L2775 1446.3L2775.6 1447.6L2779.5 1448.5L2779.8 1452.4L2775.3 1453.7L2775.6 1458.3L2779.2 1461.3L2781.1 1465.8L2786.5 1467.8L2786.5 1469.8L2794 1475L2789.5 1473.4L2788.3 1476.6L2790.1 1479.3L2788 1481.6L2785.4 1483.1L2786.8 1480.1L2785.3 1475.4L2783.2 1473L2781.1 1472.2L2777.4 1470.6L2775 1468.2L2771.7 1465.8L2769.9 1463.7L2769.3 1461.3L2767.8 1458.8L2765.1 1457.5L2763 1459.6zM2775.6 1483.1L2778.3 1482.4L2785.3 1482L2783.8 1488.1L2775.6 1484.7zM2763 1471.8L2766 1470.2L2767.8 1473.4L2767.2 1478.5L2765.1 1479.7L2763.6 1478.5L2763.6 1474.2z" fill="#f3863c"/><path d="M2781.1 1413.6L2786.5 1411.5L2792.5 1408.9L2794.9 1411L2797.3 1410.8L2806.9 1411L2809.1 1413.6L2810.3 1419.6L2808.1 1422.1L2809.4 1425.5L2810.6 1428.9L2806.3 1435L2806 1436.8L2801.5 1435.5L2797 1435L2794.9 1435L2791.3 1431.2L2789.2 1430.8L2787.1 1429.8L2783.5 1427.9L2782.6 1423.1L2780.8 1419.1L2781.7 1417.1z" fill="#f7a54b"/><path d="M2805.1 1440L2806 1436.8L2810.6 1428.9L2809.4 1425.5L2813.6 1423.6L2821.1 1425.5L2830.1 1426.5L2834 1422.6L2841.3 1421.6L2841.3 1426.5L2844.9 1427.9L2846.7 1430.8L2853.3 1433.1L2858.7 1435L2858.1 1442.7L2853.3 1445.9L2848.2 1447.6L2843.7 1449.8L2844.6 1453.3L2848.5 1453.3L2844.6 1455L2840.7 1457.5L2838.9 1456.7L2836.1 1453.3L2839.5 1450.2L2834.6 1448.5L2830.7 1448.5L2827.4 1453.7L2823.2 1452.8L2828.3 1448.5L2826.2 1444.1L2825.6 1441.8L2821.1 1439.6L2818.4 1440.5L2813.3 1443.2L2807.2 1441.8z" fill="#f9b258"/><path d="M2807.2 1441.8L2813.3 1443.2L2818.4 1440.5L2821.1 1444.1L2822.9 1448.5L2823.2 1452.8L2827.4 1453.7L2824.4 1460.4L2819.6 1458.8L2815.1 1460.9L2807.2 1460L2806.6 1458.3L2806 1456.2L2802.7 1455.8L2799.4 1450.2L2802.1 1448.9L2804.5 1444.1z" fill="#f9b258"/><path d="M2806.6 1458.3L2807.2 1460L2815.1 1460.9L2819.6 1458.8L2824.4 1460.4L2822.6 1467.4L2817.8 1468.6L2814.5 1470.6L2812.1 1469.4L2807.2 1470.2L2805.7 1466.2L2806 1462.5z" fill="#f8ac55"/><path d="M2817.8 1468.6L2822.6 1467.4L2825.9 1470.6L2833.1 1470.6L2839.2 1467.4L2844.3 1467.4L2848.2 1470.2L2854.2 1471.8L2860.2 1471.4L2863.2 1469.4L2867.2 1469.4L2869.3 1471L2869.9 1475L2873.2 1476.6L2872 1482L2873.2 1486.2L2866 1486.6L2861.1 1486.6L2855.1 1488.1L2849.7 1488.1L2848.8 1489.9L2847.3 1491.4L2846.7 1487.3L2842.5 1487.7L2837.1 1490.7L2830.7 1487.3L2827.1 1489.9L2823.2 1488.1L2820.5 1486.9L2817.8 1482L2818.7 1478.1L2817.2 1475.4L2824.1 1473.8L2825.9 1471.4L2821.1 1471.8L2816.6 1473z" fill="#f8a850"/><path d="M2873.2 1476.6L2878.3 1479.7L2882.5 1476.6L2885.5 1481.6L2888.8 1485.4L2894.9 1488.4L2900.6 1485.6L2903.3 1485.4L2906.9 1482.8L2911.4 1482.4L2917.4 1485.4L2922.6 1488.4L2922.6 1492.2L2920.7 1499.8L2924.4 1508.8L2921.7 1512.9L2927.4 1518.4L2928 1521.8L2923.8 1528.6L2915.9 1527.9L2910.8 1526.6L2908.4 1522.2L2902.4 1523.9L2896.4 1520.8L2891.2 1516L2888.8 1511.5L2885.5 1511.2L2884.3 1512.2L2881.9 1508.8L2882.5 1505.9L2876.8 1501.6L2875 1498L2877.7 1493.3L2875 1490.7L2873.2 1486.2L2872 1482z" fill="#f9b15a"/><path d="M2843.4 1514.3L2846.7 1515L2851.2 1512.2L2849.7 1507L2855.7 1504.5L2859.9 1505.6L2864.7 1508L2872.9 1515L2878.3 1515.4L2884 1517.4L2887.3 1521.8L2889.4 1523.9L2891.2 1529.9L2893.7 1531.9L2896.7 1536.1L2904.5 1536.8L2905.7 1539.1L2903.9 1545.5L2894.9 1548.7L2885.8 1550L2883.4 1551.3L2878 1554.4L2874.4 1553.8L2869 1553.5L2867.2 1556.9L2864.7 1552.5L2861.7 1547.1L2856.3 1540.7L2854.2 1534.2L2850.3 1529.9L2848.2 1525.9L2844.3 1519.1L2842.5 1518.8z" fill="#f9b85c"/><path d="M2979.5 1516.4L2982.2 1511.5L2986.7 1512.9L2991.2 1516.4L2997.2 1519.1L3003.5 1519.5L3003.5 1524.5L2995.7 1523.5L2989.7 1521.2z" fill="#f0f0f1"/><path d="M3006 1521.5L3009.3 1518.4L3014.1 1519.5L3015.3 1523L3006.3 1523.5z" fill="#f0f0f1"/><path d="M2943.6 1533.5L2952.1 1531.2L2949 1524.2L2952.1 1519.5L2960.8 1512.2L2962.6 1508.8L2962.6 1502.4L2967.1 1496.2L2972.5 1492.5L2974.6 1496.2L2976.1 1503.4L2975.5 1508L2982.2 1511.5L2979.5 1516.4L2989.7 1521.2L2995.7 1523.5L3003.5 1524.5L3003.5 1519.5L3006 1521.5L3006.3 1523.5L3015.3 1523L3015.3 1519.8L3022.8 1515L3027.3 1514.3L3031.2 1518.4L3030.3 1521.8L3024.9 1525.9L3023.1 1529.2L3023.4 1532.5L3019.2 1535.8L3018.9 1538.4L3017.1 1539.4L3016.2 1533.5L3012.9 1532.5L3016.5 1528.9L3008.7 1528.2L3008.7 1525.9L3004.7 1524.5L3003.5 1530.2L3005.3 1531.5L3006 1537.4L3006.3 1540.4L3000.2 1540.7L2998.7 1544.9L2994.2 1547.1L2989.7 1551.9L2986.1 1556.3L2980.1 1559.1L2979.5 1566L2978.9 1570.6L2978.6 1575.8L2976.1 1579.2L2973.7 1580.1L2971.6 1582.5L2968.6 1578.3L2966.5 1572.1L2963.5 1567.5L2961.1 1561.3L2959 1555.1L2957.5 1548.7L2957.2 1542.3L2956.6 1540L2955.4 1541.7L2951.5 1543.3L2946.6 1538.4L2950 1536.1L2945.7 1537.8L2946 1535.8z" fill="#f5934a"/><path d="M3006.3 1540.4L3006 1537.4L3005.3 1531.5L3003.5 1530.2L3004.7 1524.5L3008.7 1525.9L3008.7 1528.2L3016.5 1528.9L3012.9 1532.5L3016.2 1533.5L3017.1 1539.4L3016.2 1543.3L3014.7 1538.1L3010.8 1537.8z" fill="#f28a42"/><path d="M2979.2 1577.4L2982.8 1581.3L2984.6 1585.3L2983.1 1588.3L2979.8 1588.9L2978.3 1584.4L2978.6 1582.2z" fill="#f0f0f1"/><path d="M3016.2 1543.3L3017.1 1539.4L3018.9 1538.4L3019.2 1535.8L3023.4 1532.5L3023.1 1529.2L3024.9 1525.9L3030.3 1521.8L3031.2 1518.4L3034.9 1520.5L3035.5 1526.2L3032.4 1532.5L3036.1 1535.2L3037.3 1538.7L3040 1540.7L3043 1541.7L3039.7 1544.6L3036.4 1546.2L3033.3 1546.5L3031.8 1550.3L3035.2 1557.9L3034 1561.3L3036.7 1566L3037 1570.6L3035.5 1576.1L3034.9 1570.6L3033.3 1564.4L3032.4 1559.8L3032.4 1556.6L3029.7 1554.4L3025.2 1558.8L3022.2 1558.2L3022.8 1553.5L3021.9 1549.4L3019.8 1546.2z" fill="#f0f0f1"/><path d="M3039.7 1544.6L3043 1541.7L3044.8 1541.7L3046 1537.8L3048.1 1540L3053.2 1544.2L3051.4 1547.1L3055 1550L3058.9 1555.1L3061.9 1558.2L3061.9 1562.2L3057.4 1563.5L3055 1563.5L3056.2 1559.8L3054.4 1558.2L3053.8 1556.6L3053.5 1553.5L3049.9 1550.6L3045.4 1552.2L3043 1553.5L3043 1547.1L3040.9 1547.1L3040.9 1544.9z" fill="#f0f0f1"/><path d="M3048.1 1571.5L3046.9 1568.4L3046.6 1565.7L3048.4 1563.5L3055 1563.5L3057.4 1563.5L3061.9 1562.2L3061.9 1569.4L3058 1571.2L3056.8 1573.7L3052.9 1575.5L3049.9 1574.9L3048.4 1573.1z" fill="#f0f0f1"/><path d="M3039.7 1544.6L3036.4 1546.2L3033.3 1546.5L3031.8 1550.3L3035.2 1557.9L3034 1561.3L3036.7 1566L3037 1570.6L3035.5 1576.1L3034.3 1581.3L3034.3 1583.1L3037.9 1585.9L3039.7 1587.4L3042.7 1589.8L3045.7 1588.3L3042.4 1586.2L3040.6 1585L3039.4 1581.3L3037.3 1578.9L3037 1575.2L3038.8 1572.1L3039.4 1567.5L3040.9 1566L3042.4 1568.4L3046.3 1570L3048.1 1571.5L3046.9 1568.4L3046.6 1565.7L3048.4 1563.5L3055 1563.5L3056.2 1559.8L3054.4 1558.2L3053.8 1556.6L3053.5 1553.5L3049.9 1550.6L3045.4 1552.2L3043 1553.5L3043 1547.1L3040.9 1547.1L3040.9 1544.9z" fill="#f8ae55"/><path d="M3046 1537.8L3049.9 1536.8L3055.3 1534.8L3059.5 1536.5L3063.5 1540.7L3059.5 1543L3057.1 1547.1L3058.9 1552.5L3061.9 1556.3L3065.6 1559.8L3067.4 1566L3067.4 1571.2L3064.1 1573.7L3059.8 1575.5L3058.9 1578.3L3054.4 1581L3053.8 1576.7L3052.9 1575.5L3056.8 1573.7L3058 1571.2L3061.9 1569.4L3061.9 1562.2L3061.9 1558.2L3058.9 1555.1L3055 1550L3051.4 1547.1L3053.2 1544.2L3048.1 1540z" fill="#f8ae55"/><path d="M3039.7 1587.4L3042.7 1589.8L3045.7 1588.3L3049.6 1592.5L3049.9 1598.6L3052 1602.8L3049.9 1603.1L3043.3 1598.6L3041.2 1594.3L3040.3 1590.4zM3068.3 1601L3073.7 1599.8L3078.5 1597.1L3081.5 1593.4L3086 1590.4L3089.9 1586.2L3092.7 1588.3L3097.2 1591L3094.2 1594L3092.1 1594.3L3086.9 1594L3084.5 1598L3083.3 1602.5L3076.1 1602.8L3071 1604.3z" fill="#f8ae55"/><path d="M3025.2 1590.1L3031.8 1591.3L3034.9 1595.6L3040.9 1601L3048.4 1605.5L3049.9 1609.4L3052.9 1613.6L3057.4 1616.6L3057.1 1624.5L3052.9 1624.5L3046.3 1619.1L3040.9 1611.5L3036.4 1605.5L3031.8 1599.5L3025.8 1592.5zM3055 1627.5L3058.9 1625.1L3065 1626.9L3071.9 1626.3L3077.6 1627.8L3083 1630.3L3082.7 1633.3L3072.5 1632.1L3063.5 1630.6L3058.6 1629.3zM3068.3 1601L3071 1604.3L3076.1 1602.8L3083.3 1602.5L3084.5 1598L3086.9 1594L3092.1 1594.3L3093.3 1601L3096.6 1604L3092.4 1607L3092.1 1609.4L3088.4 1613L3088.1 1617.5L3083.3 1619.4L3078.5 1616.9L3074 1616.6L3070.1 1615.4L3069.5 1610.9L3067.1 1608.5L3066.5 1604.6zM3098.7 1604.6L3102 1603.1L3108.6 1604.3L3115.2 1602.2L3113.1 1605.8L3108.6 1606.1L3102.3 1605.8L3100.2 1609.7L3104.1 1609.7L3109.5 1609.4L3108 1611.8L3105 1612.7L3107.1 1617.5L3109.2 1621.5L3107.1 1623.3L3104.1 1621.2L3102.6 1616.6L3100.8 1616L3100.8 1623.6L3098.1 1623.6L3098.1 1617.5L3096 1615.1L3099 1607.6zM3132.7 1609.4L3141.7 1609.4L3143.2 1615.4L3146.2 1617.2L3152.3 1611.8L3162.8 1614.8L3162.8 1634.5L3156.8 1631.5L3153.8 1632.4L3155.9 1628.1L3153.8 1623.6L3146.2 1620.3L3140.2 1619.1L3138.1 1615.4L3135.7 1615.7L3140.2 1613.9L3135.7 1613L3132.4 1610.9zM3086 1631.8L3090.6 1632.1L3096.6 1632.4L3096 1633.9L3089.9 1634.2L3086 1633.3zM3099.3 1632.4L3108 1632.1L3108 1633.6L3099.6 1633.9zM3110.1 1638.2L3114.6 1634.8L3120.7 1632.4L3119.2 1634.2L3113.1 1637.9zM3122.2 1611.5L3124.3 1602.5L3126.1 1606.1L3124.6 1609.4zM3117.6 1616.6L3120.7 1616.3L3121.3 1618.1L3118.2 1618.4zM3123.7 1616L3131.2 1616L3130.3 1617.8L3124.3 1617.5zM3097.2 1636L3102 1635.7L3101.1 1637.9L3098.1 1637zM3055 1611.8L3058.3 1612.4L3059.2 1615.7L3056.8 1614.8zM3030.3 1602.8L3032.7 1605.2L3031.8 1603.1zM3142.3 1624.5L3144.1 1623.6L3143.5 1626.9z" fill="#f6a54d"/><path d="M3162.8 1614.8L3173.3 1618.4L3177.9 1623.6L3182.4 1625.1L3183.3 1629.6L3184.5 1633L3191.4 1638.2L3183.9 1637.6L3180.9 1635.7L3179.4 1633.9L3173.3 1630.3L3168.8 1635.1L3162.8 1634.5zM3185.4 1623.9L3191.4 1623.6L3195.9 1619.7L3196.8 1621.8L3192.9 1625.1L3186.9 1625.7zM3192.3 1614.8L3197.4 1617.5L3198.9 1620.9L3196.5 1619.1zM3204.1 1623.6L3207.4 1626.6L3205.9 1627.5z" fill="#f0f0f1"/><path d="M3209.5 1628.1L3214 1630.6L3212.5 1631.8zM3218.5 1631.2L3222.4 1634.2L3219.4 1634.2zM3220 1635.4L3224.5 1637.9L3221.5 1637.3zM3239.6 1652.7L3241.7 1654.6L3240.5 1655.2zM3242 1656.1L3244.1 1657.7L3242.6 1657.7zM3232.1 1669.1L3236.6 1671.7L3241.1 1675.9L3236.6 1674.3zM3272.1 1660.5L3275.7 1660.8L3275.1 1662.7L3272.4 1662.4zM3276.6 1657.7L3279.9 1656.7L3278.1 1658.3z" fill="#f0f0f1"/><path d="M3101.1 1550.3L3106.2 1550.6L3106.5 1556.6L3104.1 1559.8L3105.6 1564.4L3111.6 1567.5L3111 1568.4L3107.1 1565.4L3102.6 1565.4L3101.4 1562.9L3099.6 1559.8L3100.8 1556.6zM3105.6 1585.9L3110.1 1581L3116.1 1577.4L3119.2 1584.4L3117.6 1588L3115.8 1590.1L3111.6 1587.4L3110.1 1584.4zM3091.2 1581.3L3098.1 1573.7L3097.5 1576.1L3092.1 1581.6zM3102 1566.3L3104.1 1566.9L3103.5 1569.7L3102 1568.4zM3105.3 1571.2L3108.9 1572.1L3107.1 1575.2L3105.3 1575.2zM3107.4 1575.5L3109.8 1574.3L3109.2 1578.9L3107.4 1578zM3112.5 1572.4L3114.6 1573.1L3115.2 1576.1L3114 1576.4zM3112.5 1569.1L3115.5 1569.1L3116.7 1573.1L3114.3 1572.1zM3109.8 1575.8L3111.6 1573.1L3110.4 1578z" fill="#f0f0f1"/><path d="M3102.6 1528.6L3105.6 1529.2L3104.1 1534.2L3102.3 1539.1L3099.9 1535.8L3101.1 1531.5z" fill="#f8b25a"/><path d="M3112.8 1475L3117.6 1471.4L3123.7 1469.4L3124.6 1467.4L3128.8 1465.8L3131.8 1466.2L3128.8 1471.4L3123.7 1475.4L3122.2 1478.1L3124.9 1480.8L3119.8 1483.9L3116.1 1484.3L3114.6 1480.8L3115.5 1477.4z" fill="#f0f0f1"/><path d="M3131.5 1465.8L3131.5 1465L3133.3 1461.3L3132.7 1455.4L3139 1454.5L3143.8 1440.5L3132.7 1443.2L3131.2 1437.8L3122.2 1433.6L3117.6 1420.6L3110.1 1415.6L3102 1416.6L3099.6 1424.5L3097.5 1432.2L3093 1435L3089.6 1433.6L3086.3 1442.3L3091.8 1443.2L3095.1 1442.3L3099.3 1447.6L3091.8 1448.5L3089.3 1449.4L3086.6 1452.8L3081.5 1455L3074.9 1460.4L3068 1465.4L3054.4 1469L3042.4 1465L3028.8 1464.6L3025.8 1458.3L3018.3 1455L3011.7 1453.7L3010.8 1446.3L3003.2 1439.6L3002.6 1436.4L3001.1 1436.8L2996.3 1440L2995.7 1445.9L2988.2 1445.4L2986.7 1454.1L2980.4 1456.2L2981.6 1462.5L2979.8 1466.6L2973.1 1471.4L2968.6 1473.8L2961.1 1475.4L2960.2 1477.7L2963.5 1481.2L2964.1 1485.4L2972.5 1492.5L2974.6 1496.2L2976.1 1503.4L2975.5 1508L2982.2 1511.5L2986.7 1512.9L2991.2 1516.4L2997.2 1519.1L3003.5 1519.5L3006 1521.5L3009.3 1518.4L3014.1 1519.5L3015.3 1519.8L3022.8 1515L3027.3 1514.3L3031.2 1518.4L3034.9 1520.5L3035.5 1526.2L3032.4 1532.5L3036.1 1535.2L3037.3 1538.7L3040 1540.7L3043 1541.7L3044.8 1541.7L3046 1537.8L3049.9 1536.8L3055.3 1534.8L3059.5 1536.5L3063.5 1540.7L3068 1540.7L3070.4 1544.6L3071.9 1541L3080 1538.4L3082.4 1537.8L3089 1535.8L3093.6 1530.9L3098.4 1526.6L3099.6 1522.5L3104.1 1517.4L3105.6 1512.2L3105 1508.8L3102.6 1505.2L3100.5 1498L3097.2 1494.4L3101.1 1490.3L3107.1 1486.9L3102.6 1484.7L3096.6 1485.8L3093 1481.2L3095.1 1478.9L3104.1 1471.8L3103.2 1480.1L3108.6 1476.6L3112.8 1475L3117.6 1471.4L3123.7 1469.4L3124.6 1467.4L3128.8 1465.8zM3065.6 1548.1L3071.3 1545.2L3072.5 1546.8L3069.5 1550.9L3065.6 1550.3z" fill="#e02a27"/><path d="M3119.8 1483.9L3124.9 1480.8L3127.9 1486.9L3128.2 1491.1L3127.3 1494L3123.7 1495.1L3119.2 1496.6L3118.6 1492.5L3119.5 1487.7z" fill="#f2673a"/><path d="M3132.4 1498L3137.2 1492.5L3141.7 1492.2L3147.8 1491.8L3151.7 1485.1L3150.8 1487.7L3155.3 1485.4L3158.3 1481.2L3159.8 1476.2L3159.8 1473L3163.7 1469.8L3164.3 1473.4L3165.8 1477.4L3162.8 1482L3162.8 1487.7L3162.2 1491.8L3159.2 1494.4L3158.9 1492.5L3156.2 1495.5L3150.8 1495.9L3150.5 1496.9L3147.2 1499.8L3145.6 1495.9L3140.2 1496.6L3136.6 1497.3zM3160.1 1469.8L3160.7 1463.3L3163.7 1462.5L3165.5 1452.8L3170.3 1457.9L3175.8 1457.9L3177.3 1461.7L3172.7 1463.7L3169.7 1467.4L3165.5 1465L3162.8 1465.4L3162.5 1468.2zM3132.4 1498.4L3134.8 1499.5L3135.7 1502.4L3133.9 1507.3L3131.8 1508.8L3130.3 1507L3130.6 1503.4L3128.8 1500.2L3130.9 1499.1zM3136.3 1500.2L3138.7 1497.3L3143.2 1496.9L3143.8 1498.8L3142.3 1500.6L3138.7 1502.4z" fill="#ea3a2d"/><path d="M3082.1 1674.9L3080 1686.4L3082.1 1694.9L3084.5 1701.8L3086.6 1708.8L3084.5 1717.1L3093.6 1719.6L3111.6 1715.2L3126.7 1707.4L3132.7 1707L3141.7 1711.6L3146.2 1718.9L3153.2 1710.9L3153.8 1721.5L3159.8 1728.9L3171.8 1732.8L3179.4 1734.7L3189.9 1728.9L3193.8 1715.2L3197.4 1708.8L3199.5 1701.8L3200.7 1695.6L3199.5 1684.8L3192.9 1679.8L3188.4 1674.9L3185.4 1669.1L3180.3 1666.2L3177.3 1658.6L3175.8 1652.4L3171.8 1650.5L3170.3 1645.9L3167.3 1639.4L3164.9 1644.9L3164.6 1652.7L3162.5 1660.2L3158.3 1660.5L3153.2 1655.2L3146.2 1652.4L3147.8 1648L3150.5 1644.3L3144.7 1643.7L3138.7 1642.2L3137.2 1641.2L3132.1 1644.6L3128.5 1652.4L3124.3 1652.1L3118.2 1649.6L3114 1654.2L3110.1 1659.9L3106.2 1662.1L3102.6 1666.9L3095.4 1669.4L3089.9 1670.4L3084.5 1673.6zM3130.3 1641.6L3133.6 1641.2L3132.7 1642.8L3130.6 1642.8z" fill="#f5893f"/><path d="M2469.7 1558.5L2469.4 1563.2L2467.3 1565M2469.4 1563.2L2474.3 1566.6M2475.5 1567.5L2480.3 1564.7L2487.8 1561.3M2480 1574L2486.3 1574M2488.4 1582.2L2489.6 1578.3M2566.1 1588.9L2564 1594.9L2568.2 1601M2748.5 1426L2751.8 1426L2756.4 1427M2789.2 1439.1L2789.8 1441.8L2794.9 1442.7L2800 1439.6L2805.1 1440M2787.1 1446.7L2788.3 1448.5L2791.6 1451.1L2795.2 1451.1L2799.4 1450.2M2779.5 1448.5L2785.3 1449.8L2788.3 1448.5M2779.2 1452.8L2784.4 1452.8L2785.9 1454.1L2786.5 1455M2795.2 1451.1L2795.8 1455.4L2796.7 1459.2L2796.1 1461.3L2794 1465.4M2785.9 1454.1L2789.5 1454.1L2795.8 1455.4M2796.1 1461.3L2799.4 1464.2L2798.8 1465L2796.7 1467.8M2799.4 1464.2L2803 1466.2L2805.7 1466.2M2798.8 1465L2800.3 1467.8L2800.3 1471.8L2801.5 1472.2M2800.3 1467.8L2803 1466.2M2796.7 1459.2L2799.4 1450.2M2801.5 1402L2804.5 1400.4L2813.3 1400.4L2818.4 1404.2L2823.2 1402M2811.8 1392.1L2816.6 1392.7L2820.8 1394.3M2806.9 1411L2809.1 1413.6L2815.1 1412.1L2818.4 1404.2M2869.3 1471L2873.8 1470.2L2878.3 1467.8M2873.8 1470.2L2875.3 1473L2878.3 1479.7M2906.9 1470.2L2909.9 1470.2L2914.4 1464.6L2918.9 1469.8L2924.7 1471L2926.5 1475.4L2932.5 1480.1L2938.5 1485.4M2952.1 1466.2L2949.7 1469.4L2954.2 1469.4L2958.1 1472.2L2953.6 1474.6L2950.6 1474.6L2946.9 1472.2L2943 1471.4M2960.2 1477.7L2954.5 1477.7L2950.6 1475.4L2946.9 1474.6L2944.5 1477.4L2942.4 1479.3L2943.6 1483.1L2942.4 1486.2M2855.1 1500.2L2849.1 1504.2L2845.5 1502.7L2845.5 1500.6M2845.5 1502.7L2845.2 1507L2843.7 1514M2845.5 1500.6L2847.9 1498L2847.6 1495.9L2846.4 1495.9M2894.9 1548.7L2898.2 1556M2904.5 1536.8L2906.9 1532.2L2908.1 1529.6M2893.7 1531.9L2896.4 1531.9M2698.9 1541.3L2699.2 1535.8L2702.2 1534.3L2702.2 1525.9L2712.2 1525.9L2712.2 1521.5L2723.8 1529.2L2718.7 1529.2L2721.7 1556.6L2721.7 1559.8L2710.3 1559.8L2703.7 1559.4L2701.6 1561.9L2694.6 1556.3L2688.6 1558.2M2723.8 1529.2L2741.9 1542L2747.9 1546.2L2750.9 1548.4L2755.8 1547.4L2760.9 1542.6L2774.4 1534.2L2768.4 1530.9L2766.9 1524.5L2768.1 1518.1L2766.9 1511.5M2813.6 1539.1L2813.6 1545.5L2810.6 1545.5L2810.6 1547.1L2786.5 1534.3L2783.5 1535.8L2781.1 1537.1L2774.4 1534.2M2783.5 1535.8L2785 1542.3L2785.3 1545.5L2785 1555.4L2779.2 1565.4L2782.3 1570.6L2783.5 1576.7L2779.8 1576.7L2785 1584.4L2782 1588.3L2782.3 1591.9L2786.5 1600.4L2778 1600.4L2772.3 1600.4L2767.8 1600.1M2810.6 1547.1L2810.6 1559.1L2807.2 1559.4L2806 1563.8L2804.8 1568.4L2807.2 1573.7L2809.7 1580.7L2820.8 1591.6L2831 1596.2L2832.5 1600.4L2827.7 1606.7L2827.4 1611.2L2825.6 1615.1L2826.8 1620.3L2827.4 1626.3L2831 1631.8L2825.3 1632.7L2823.8 1643.1L2828 1644L2825.6 1647.7L2819.6 1643.4L2811.8 1641.6L2804.5 1640.3L2803.9 1629L2795.5 1631.2L2789.5 1629L2788.3 1624.8L2777.7 1624.8L2775.3 1625.4M2750.9 1548.4L2750.9 1556.6L2748.8 1560.1L2741.3 1561.3L2738.9 1561.6L2732.3 1563.8L2725.4 1566.9L2721.7 1575.2L2714.2 1576.1L2712.7 1572.1L2704 1569.4L2701.6 1561.9M2746.4 1587.7L2749.1 1571.5L2751.8 1565.4L2759.4 1567.5L2768.4 1566.6L2779.2 1565.4M2782.3 1570.6L2778 1578L2773.8 1585.9L2768.7 1586.2L2763.9 1593.4M2749.1 1571.5L2745.2 1569.7L2741 1573.7L2737.7 1573.4L2729.9 1573.7L2730.2 1578.3L2729 1591.6M2741 1573.7L2740.7 1581.3L2741.9 1588.6M2743.1 1588.3L2743.1 1579.8L2745.2 1569.7M2729.9 1573.7L2721.7 1575.2M2715.7 1593.7L2712.7 1584.1L2714.2 1576.1M2712.7 1584.1L2707.3 1581.3L2703.7 1586.2M2707.3 1581.3L2704.3 1576.7L2698.3 1579.8M2704 1569.4L2697.1 1568.4L2693.1 1574M2697.1 1568.4L2688 1569.4M2809.7 1580.7L2812.1 1580.7L2822.3 1578L2825.6 1577.7L2831.6 1577.4L2837.7 1570L2838.3 1576.1L2840.7 1578.3L2837.7 1582.8L2842.5 1586.8L2846.4 1593.1L2840.7 1594.3L2831 1596.2M2849.4 1539.1L2813.6 1539.1M2854.2 1551.9L2848.2 1563.5L2846.7 1568.4L2841.6 1574.9L2840.7 1578.3M2848.2 1563.5L2852.4 1561.6L2855.7 1562.6L2861.1 1564.1L2866 1569.1L2868.1 1568.4M2866 1569.1L2864.1 1573.7L2867.8 1574.6L2868.1 1571.8M2867.8 1574.6L2870.8 1579.8L2879.8 1582.8L2882.8 1582.8L2873.8 1591.9L2864.4 1595.2L2861.1 1594.3L2853 1596.2L2846.4 1593.1M2864.4 1595.2L2861.7 1598.6L2861.7 1609.4L2863.2 1612.1M2856.3 1621.2L2851.8 1616.3L2840.7 1610L2840.7 1606.4L2843.7 1601.9L2840.7 1594.3M2840.7 1610L2831 1610L2827.4 1611.2M2831 1610L2830.1 1614.2L2825.6 1615.1M2831 1631.8L2837.4 1635.4L2842.2 1642.2L2851.2 1642.5L2859.9 1638.8M2837.4 1635.4L2838.3 1649.6L2829.2 1652.1L2829.8 1654.6L2837.7 1649.6M2842.2 1642.2L2844.6 1655.8L2843.4 1667.8M2829.8 1654.6L2837.4 1658L2836.7 1665L2832.5 1676.2M2829.8 1654.6L2825.3 1655.8L2819.6 1661.8L2814.5 1661.5L2826.8 1675.6M2814.5 1661.5L2808.8 1660.8L2804.5 1656.4L2804.5 1640.3M2808.8 1660.8L2801.5 1663.1L2801.5 1674.9L2798.5 1674.9L2798.5 1684.1M2773.8 1659.9L2780.4 1660.2L2794 1660.2L2808.8 1660.8M2786.5 1600.4L2792.8 1600.1L2794.3 1596.5L2805.7 1594.6L2820.8 1591.6M2792.8 1600.1L2791.6 1608.5L2787.1 1613.6L2786.5 1619.1L2781.7 1621.5L2777.7 1620.9L2775 1622.1M2783.5 1576.7L2794 1582.8L2807.2 1573.7M2772.3 1600.4L2772.3 1604L2767.2 1604M2778 1600.4L2782 1608.5L2781.7 1613L2772.9 1613.9L2771.7 1618.8M2781.7 1613L2781.7 1621.5" fill="none"/><circle cx="3082.1" cy="1538.1" r="7" fill="#f8b25a" stroke="none"/><circle cx="3050.8" cy="1603.1" r="5.5" fill="#f8ae55" stroke="none"/><circle cx="2911.4" cy="1669.1" r="7" fill="#f8b25a" stroke="none"/></g></svg>
<div class="abs" style="left:3573px;top:1291px;width:44px;height:86px;border:2px solid #c9ccd1;border-radius:8px;background:#fff"></div><div class="abs" style="left:3575px;top:1333px;width:40px;height:2px;background:#d5d8dc"></div><svg style="left:3581px;top:1299px" width="28" height="70" viewBox="0 0 28 70"><path d="M2 14h24M14 2v24M2 56h24" stroke="#5b6166" stroke-width="4.500" fill="none"/></svg>
<div id="side"><svg style="left:10px;top:0" width="90" height="80" viewBox="0 0 90 80"><g fill="#e8e8e9"><ellipse cx="20.400" cy="18.400" rx="6.800" ry="8.800" transform="rotate(-22 20.4 18.4)"/><path d="M45.500 7.500c2-1.800 4.500-1.800 6 0l5.300 9.500-5.300-1.500z"/><path d="M24 17c4-6 14-9 22-8 5 3 9 9 10 15l1 12c0 5-3 8-7 8-5 3-11 4-16 3l1 8-4 12-8 2c-3-7-1-14 4-19-5-6-7-14-5-22z"/><ellipse cx="25" cy="59.500" rx="8.600" ry="8.200" transform="rotate(-30 25 59.5)"/><path d="M35.300 43.900l31.500-5.700 2.200 21-29.600 5.400z"/></g><path d="M35.300 43.900l31.500-5.700 2.200 21-29.600 5.400z" fill="none" stroke="#3c3944" stroke-width="0.800"/><path d="M40.700 62l3.800-7.900 5.800 0.600 5-7.600 5.800 3.800 5.100-8.900 1.200 15.900z" fill="#3c3944"/><ellipse cx="36.300" cy="24.800" rx="2.900" ry="2.100" transform="rotate(-20 36.3 24.8)" fill="#3c3944"/><ellipse cx="50.300" cy="22.300" rx="1.500" ry="1.900" fill="#3c3944"/><ellipse cx="50.900" cy="33" rx="3.300" ry="2.300" transform="rotate(-8 50.9 33)" fill="#3c3944"/><path d="M34 37c4 4 10 5 15 2" fill="none" stroke="#3c3944" stroke-width="0.900"/><path d="M26.500 23c-1.500 1.500-3.500 2.500-6 2.500" fill="none" stroke="#3c3944" stroke-width="1"/></svg><svg style="left:26.5px;top:341px" width="44" height="44" viewBox="0 0 44 44"><circle cx="19" cy="19" r="12" fill="none" stroke="#a9a6ae" stroke-width="3.400"/><path d="M28 28l10 10" stroke="#a9a6ae" stroke-width="3.800" stroke-linecap="round"/></svg><svg style="left:26.5px;top:420px" width="44" height="44" viewBox="0 0 44 44"><path d="M10 5h8v5h-8zM26 5h8v5h-8zM9 11h10l1 6v19H4V25zM35 11H25l-1 6v19h16V25zM19 15h6v10h-6z" fill="#a9a6ae"/></svg><svg style="left:26.5px;top:499px" width="44" height="44" viewBox="0 0 44 44"><rect x="4" y="8" width="36" height="28" rx="3" fill="#a9a6ae"/><path d="M9 17h3M15 17h20M9 23h3M15 23h20M9 29h3M15 29h20" stroke="#2f2b38" stroke-width="3"/></svg><svg style="left:26.5px;top:578px" width="44" height="44" viewBox="0 0 44 44"><path d="M5 6v32h35" fill="none" stroke="#fff" stroke-width="3.400"/><path d="M10 33V22l8-9 9 10 7-6 5 16z" fill="#fff"/></svg><svg style="left:26.5px;top:657px" width="44" height="44" viewBox="0 0 44 44"><path d="M13.0 3.5L21.2 8.2L21.2 17.8L13.0 22.5L4.8 17.8L4.8 8.2zM22.0 20.5L30.2 25.2L30.2 34.8L22.0 39.5L13.8 34.8L13.8 25.2z" fill="#a9a6ae"/><path d="M32.0 5.5L38.5 9.2L38.5 16.8L32.0 20.5L25.5 16.8L25.5 9.2z" fill="none" stroke="#a9a6ae" stroke-width="3.400"/></svg><svg style="left:26.5px;top:736px" width="44" height="44" viewBox="0 0 44 44"><path d="M37 18a16 16 0 1 1-9-11" fill="none" stroke="#a9a6ae" stroke-width="3.400" stroke-dasharray="46 4 3 4 3 4 60"/><path d="M30 20a9 9 0 1 1-5-6" fill="none" stroke="#a9a6ae" stroke-width="3.400"/><circle cx="22" cy="22" r="3.200" fill="#a9a6ae"/><path d="M22 22L36 8" stroke="#a9a6ae" stroke-width="3.600" stroke-linecap="round"/></svg><svg style="left:26.5px;top:815px" width="44" height="44" viewBox="0 0 44 44"><path d="M6 32a17 17 0 0 1 14-22" fill="none" stroke="#a9a6ae" stroke-width="4.500" stroke-dasharray="3.500 3"/><path d="M33 14a17 17 0 0 1 5 20" fill="none" stroke="#a9a6ae" stroke-width="4.500" stroke-linecap="round"/><path d="M19 30l10-20 3 1-7 21z" fill="#a9a6ae"/></svg><svg style="left:26.5px;top:894px" width="44" height="44" viewBox="0 0 44 44"><path d="M5 14h10c-3-6 1-9 5-9s7 4 4 9h9v8c5-3 9 0 9 4s-4 7-9 4v8H22c2-5-1-7-3-7s-5 2-3 7H5z" fill="#a9a6ae"/></svg><svg style="left:26.5px;top:973px" width="44" height="44" viewBox="0 0 44 44"><path d="M4 8h36M4 17h6M14 17h26M13 26h10M27 26h13M22 35h8" stroke="#a9a6ae" stroke-width="4.500" fill="none"/></svg><svg style="left:26.5px;top:1052px" width="44" height="44" viewBox="0 0 44 44"><path d="M30 14c0-5-4-8-9-8s-9 3-9 8 5 7 10 8 10 3 10 8-4 8-9 8h-6" fill="none" stroke="#a9a6ae" stroke-width="3.600" stroke-linecap="round"/><path d="M22 33l-6 5 6 5" fill="none" stroke="#a9a6ae" stroke-width="3.600" stroke-linecap="round" stroke-linejoin="round" transform="translate(0,-0.5)"/></svg><svg style="left:26.5px;top:1131px" width="44" height="44" viewBox="0 0 44 44"><path d="M13 5h22c3 0 4 2 3 5l-5 22c-1 3-2 4-5 4H7c-3 0-3-3-1-4h20l6-24" fill="#a9a6ae"/><path d="M12 7h22l-6 24H5z" fill="#a9a6ae"/><path d="M15 13h14M14 18h14" stroke="#241f2e" stroke-width="2.600"/></svg><svg style="left:26.5px;top:1210px" width="44" height="44" viewBox="0 0 44 44"><path d="M5 7h8M16 7h8M27 7h8M5 16h9M5 25h9" stroke="#a9a6ae" stroke-width="4.500" fill="none"/><circle cx="28" cy="22" r="9" fill="none" stroke="#a9a6ae" stroke-width="3.800"/><circle cx="29" cy="21" r="3" fill="#a9a6ae"/><path d="M21 29l-8 9" stroke="#a9a6ae" stroke-width="4.200" stroke-linecap="round"/></svg><svg style="left:26.5px;top:1289px" width="44" height="44" viewBox="0 0 44 44"><path d="M22 5l15 6v10c0 9-6 15-15 19C13 36 7 30 7 21V11z" fill="none" stroke="#a9a6ae" stroke-width="3.400" stroke-linejoin="round"/><path d="M22 5v35M8 19l14-8M8 28l14-8" stroke="#a9a6ae" stroke-width="3.200" fill="none"/></svg><svg style="left:26.5px;top:1368px" width="44" height="44" viewBox="0 0 44 44"><path d="M22.0 4.0L37.6 13.0L37.6 31.0L22.0 40.0L6.4 31.0L6.4 13.0z" fill="none" stroke="#a9a6ae" stroke-width="1.600" stroke-dasharray="3 2"/><circle cx="22.0" cy="4.0" r="3" fill="#a9a6ae"/><circle cx="37.6" cy="13.0" r="3" fill="#a9a6ae"/><circle cx="37.6" cy="31.0" r="3" fill="#a9a6ae"/><circle cx="22.0" cy="40.0" r="3" fill="#a9a6ae"/><circle cx="6.4" cy="31.0" r="3" fill="#a9a6ae"/><circle cx="6.4" cy="13.0" r="3" fill="#a9a6ae"/><circle cx="22" cy="22" r="11.500" fill="none" stroke="#a9a6ae" stroke-width="3"/><path d="M22 10.500c-7 6-7 17 0 23M22 10.500c7 6 7 17 0 23M11 19c7 3 15 3 22 0M11 26c7-3 15-3 22 0" fill="none" stroke="#a9a6ae" stroke-width="2.400"/></svg><svg style="left:26.5px;top:1543px" width="44" height="44" viewBox="0 0 44 44"><path d="M9 7h26c2 0 3 1 3 3v15c0 2-1 3-3 3H24l-9 8v-8H9c-2 0-3-1-3-3V10c0-2 1-3 3-3z" fill="none" stroke="#a9a6ae" stroke-width="3.400" stroke-linejoin="round"/></svg><div class="abs" style="left:33px;top:1628px;width:31px;height:31px;border-radius:16px;background:#a9a6ae;color:#1b1524;font-weight:700;font-size:27px;line-height:31px;text-align:center">?</div><svg style="left:26.5px;top:1700px" width="44" height="44" viewBox="0 0 44 44"><circle cx="22" cy="22" r="22" fill="#2f8263"/><clipPath id="avc"><circle cx="22" cy="22" r="22"/></clipPath><g clip-path="url(#avc)" fill="#6cb8f2"><rect x="13" y="0" width="5" height="22"/><rect x="26" y="0" width="5" height="22"/><rect x="13" y="9" width="18" height="4"/><rect x="13" y="17" width="18" height="5"/><rect x="4" y="22" width="13" height="13"/><rect x="27" y="22" width="13" height="13"/><rect x="17" y="27" width="10" height="13"/><rect x="13" y="31" width="5" height="9"/><rect x="26" y="31" width="5" height="9"/></g></svg><svg style="left:0;top:1758px" width="20" height="20" viewBox="0 0 20 20"><path d="M0 0v20h20A20 20 0 0 1 0 0z" fill="#e9e9ea"/></svg></div>
<div id="foot"><div class="abs" style="left:898px;top:20px;line-height:34px">Copyright Datadog, Inc. 2023 - 35.15697024 - <a>Master Subscription Agreement</a> - <a>Privacy Policy</a> - <a>Cookie Policy</a> - <a>Datadog Status &#8594;</a> <span style="display:inline-block;width:18px;height:18px;border-radius:9px;background:#41c464;vertical-align:-1px;margin:0 3px 0 2px"></span> All Systems Operational</div></div>
</body></html>
